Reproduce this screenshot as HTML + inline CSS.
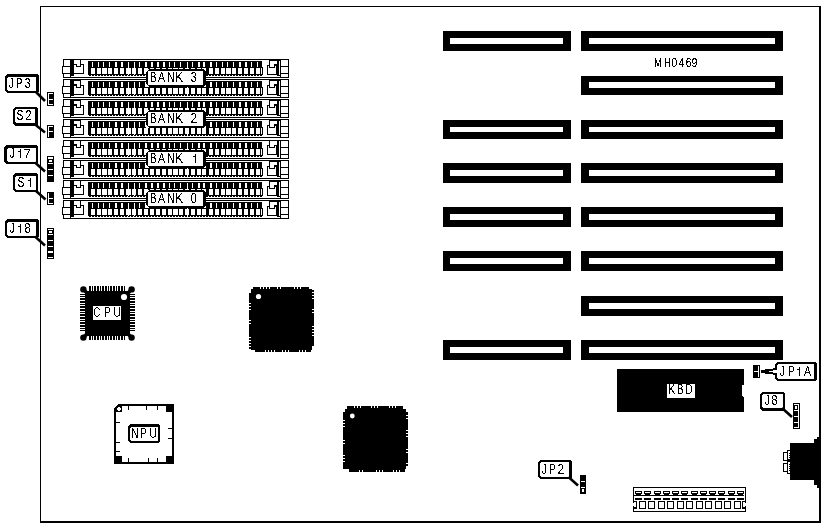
<!DOCTYPE html>
<html><head><meta charset="utf-8"><style>
html,body{margin:0;padding:0;background:#fff;width:825px;height:527px;overflow:hidden}
svg{display:block;filter:grayscale(1)}
text{font-family:"Liberation Sans",sans-serif}
</style></head><body>
<svg width="825" height="527" viewBox="0 0 825 527" shape-rendering="crispEdges">
<defs><filter id="th" color-interpolation-filters="sRGB"><feComponentTransfer><feFuncA type="discrete" tableValues="0 1"/></feComponentTransfer></filter></defs>
<rect x="0" y="0" width="825" height="527" fill="#fff"/>
<rect x="40" y="6" width="781" height="1" fill="#000"/>
<rect x="40" y="6" width="1" height="517" fill="#000"/>
<rect x="819" y="6" width="2" height="517" fill="#000"/>
<rect x="40" y="521" width="781" height="2" fill="#000"/>
<rect x="443" y="31" width="128" height="20" fill="#000"/>
<rect x="450" y="38" width="113" height="6" fill="#fff"/>
<rect x="581" y="31" width="202" height="20" fill="#000"/>
<rect x="589" y="38" width="186" height="6" fill="#fff"/>
<rect x="581" y="76" width="202" height="19" fill="#000"/>
<rect x="589" y="82" width="186" height="6" fill="#fff"/>
<rect x="443" y="120" width="128" height="19" fill="#000"/>
<rect x="450" y="127" width="113" height="5" fill="#fff"/>
<rect x="581" y="120" width="202" height="19" fill="#000"/>
<rect x="589" y="127" width="186" height="5" fill="#fff"/>
<rect x="443" y="163" width="128" height="20" fill="#000"/>
<rect x="450" y="170" width="113" height="6" fill="#fff"/>
<rect x="581" y="163" width="202" height="20" fill="#000"/>
<rect x="589" y="170" width="186" height="6" fill="#fff"/>
<rect x="443" y="207" width="128" height="20" fill="#000"/>
<rect x="450" y="214" width="113" height="6" fill="#fff"/>
<rect x="581" y="207" width="202" height="20" fill="#000"/>
<rect x="589" y="214" width="186" height="6" fill="#fff"/>
<rect x="443" y="251" width="128" height="20" fill="#000"/>
<rect x="450" y="258" width="113" height="6" fill="#fff"/>
<rect x="581" y="251" width="202" height="20" fill="#000"/>
<rect x="589" y="258" width="186" height="6" fill="#fff"/>
<rect x="581" y="296" width="202" height="20" fill="#000"/>
<rect x="589" y="303" width="186" height="6" fill="#fff"/>
<rect x="443" y="340" width="128" height="20" fill="#000"/>
<rect x="450" y="347" width="113" height="6" fill="#fff"/>
<rect x="581" y="340" width="202" height="20" fill="#000"/>
<rect x="589" y="347" width="186" height="6" fill="#fff"/>
<rect x="63" y="59" width="25" height="1" fill="#000"/>
<rect x="63" y="60" width="1" height="1" fill="#000"/>
<rect x="70" y="60" width="4" height="1" fill="#000"/>
<rect x="80" y="60" width="1" height="1" fill="#000"/>
<rect x="63" y="61" width="1" height="1" fill="#000"/>
<rect x="70" y="61" width="4" height="1" fill="#000"/>
<rect x="80" y="61" width="1" height="1" fill="#000"/>
<rect x="63" y="62" width="1" height="1" fill="#000"/>
<rect x="70" y="62" width="4" height="1" fill="#000"/>
<rect x="80" y="62" width="1" height="1" fill="#000"/>
<rect x="63" y="63" width="1" height="1" fill="#000"/>
<rect x="70" y="63" width="4" height="1" fill="#000"/>
<rect x="80" y="63" width="1" height="1" fill="#000"/>
<rect x="63" y="64" width="1" height="1" fill="#000"/>
<rect x="70" y="64" width="7" height="1" fill="#000"/>
<rect x="80" y="64" width="4" height="1" fill="#000"/>
<rect x="63" y="65" width="1" height="1" fill="#000"/>
<rect x="70" y="65" width="4" height="1" fill="#000"/>
<rect x="76" y="65" width="1" height="1" fill="#000"/>
<rect x="80" y="65" width="1" height="1" fill="#000"/>
<rect x="83" y="65" width="1" height="1" fill="#000"/>
<rect x="62" y="66" width="12" height="1" fill="#000"/>
<rect x="76" y="66" width="5" height="1" fill="#000"/>
<rect x="83" y="66" width="1" height="1" fill="#000"/>
<rect x="62" y="67" width="1" height="1" fill="#000"/>
<rect x="70" y="67" width="4" height="1" fill="#000"/>
<rect x="83" y="67" width="1" height="1" fill="#000"/>
<rect x="62" y="68" width="1" height="1" fill="#000"/>
<rect x="70" y="68" width="4" height="1" fill="#000"/>
<rect x="83" y="68" width="1" height="1" fill="#000"/>
<rect x="62" y="69" width="1" height="1" fill="#000"/>
<rect x="70" y="69" width="4" height="1" fill="#000"/>
<rect x="83" y="69" width="1" height="1" fill="#000"/>
<rect x="62" y="70" width="1" height="1" fill="#000"/>
<rect x="70" y="70" width="4" height="1" fill="#000"/>
<rect x="83" y="70" width="1" height="1" fill="#000"/>
<rect x="62" y="71" width="1" height="1" fill="#000"/>
<rect x="70" y="71" width="4" height="1" fill="#000"/>
<rect x="83" y="71" width="1" height="1" fill="#000"/>
<rect x="62" y="72" width="1" height="1" fill="#000"/>
<rect x="70" y="72" width="4" height="1" fill="#000"/>
<rect x="83" y="72" width="1" height="1" fill="#000"/>
<rect x="62" y="73" width="22" height="1" fill="#000"/>
<rect x="63" y="74" width="1" height="1" fill="#000"/>
<rect x="70" y="74" width="4" height="1" fill="#000"/>
<rect x="63" y="75" width="1" height="1" fill="#000"/>
<rect x="70" y="75" width="4" height="1" fill="#000"/>
<rect x="63" y="76" width="1" height="1" fill="#000"/>
<rect x="70" y="76" width="1" height="1" fill="#000"/>
<rect x="63" y="77" width="25" height="1" fill="#000"/>
<rect x="262" y="59" width="27" height="1" fill="#000"/>
<rect x="269" y="60" width="12" height="1" fill="#000"/>
<rect x="288" y="60" width="1" height="1" fill="#000"/>
<rect x="269" y="61" width="1" height="1" fill="#000"/>
<rect x="277" y="61" width="2" height="1" fill="#000"/>
<rect x="280" y="61" width="1" height="1" fill="#000"/>
<rect x="288" y="61" width="1" height="1" fill="#000"/>
<rect x="269" y="62" width="1" height="1" fill="#000"/>
<rect x="277" y="62" width="2" height="1" fill="#000"/>
<rect x="280" y="62" width="1" height="1" fill="#000"/>
<rect x="288" y="62" width="1" height="1" fill="#000"/>
<rect x="269" y="63" width="1" height="1" fill="#000"/>
<rect x="277" y="63" width="2" height="1" fill="#000"/>
<rect x="280" y="63" width="1" height="1" fill="#000"/>
<rect x="288" y="63" width="1" height="1" fill="#000"/>
<rect x="269" y="64" width="1" height="1" fill="#000"/>
<rect x="274" y="64" width="5" height="1" fill="#000"/>
<rect x="280" y="64" width="1" height="1" fill="#000"/>
<rect x="288" y="64" width="1" height="1" fill="#000"/>
<rect x="267" y="65" width="3" height="1" fill="#000"/>
<rect x="274" y="65" width="5" height="1" fill="#000"/>
<rect x="280" y="65" width="1" height="1" fill="#000"/>
<rect x="288" y="65" width="1" height="1" fill="#000"/>
<rect x="267" y="66" width="1" height="1" fill="#000"/>
<rect x="269" y="66" width="1" height="1" fill="#000"/>
<rect x="274" y="66" width="1" height="1" fill="#000"/>
<rect x="276" y="66" width="3" height="1" fill="#000"/>
<rect x="280" y="66" width="9" height="1" fill="#000"/>
<rect x="262" y="67" width="1" height="1" fill="#000"/>
<rect x="267" y="67" width="1" height="1" fill="#000"/>
<rect x="269" y="67" width="6" height="1" fill="#000"/>
<rect x="276" y="67" width="3" height="1" fill="#000"/>
<rect x="280" y="67" width="1" height="1" fill="#000"/>
<rect x="288" y="67" width="1" height="1" fill="#000"/>
<rect x="262" y="68" width="1" height="1" fill="#000"/>
<rect x="267" y="68" width="1" height="1" fill="#000"/>
<rect x="276" y="68" width="3" height="1" fill="#000"/>
<rect x="280" y="68" width="1" height="1" fill="#000"/>
<rect x="288" y="68" width="1" height="1" fill="#000"/>
<rect x="262" y="69" width="1" height="1" fill="#000"/>
<rect x="267" y="69" width="1" height="1" fill="#000"/>
<rect x="276" y="69" width="3" height="1" fill="#000"/>
<rect x="280" y="69" width="1" height="1" fill="#000"/>
<rect x="288" y="69" width="1" height="1" fill="#000"/>
<rect x="262" y="70" width="1" height="1" fill="#000"/>
<rect x="267" y="70" width="1" height="1" fill="#000"/>
<rect x="276" y="70" width="3" height="1" fill="#000"/>
<rect x="280" y="70" width="1" height="1" fill="#000"/>
<rect x="288" y="70" width="1" height="1" fill="#000"/>
<rect x="262" y="71" width="1" height="1" fill="#000"/>
<rect x="267" y="71" width="1" height="1" fill="#000"/>
<rect x="276" y="71" width="3" height="1" fill="#000"/>
<rect x="280" y="71" width="1" height="1" fill="#000"/>
<rect x="288" y="71" width="1" height="1" fill="#000"/>
<rect x="262" y="72" width="1" height="1" fill="#000"/>
<rect x="267" y="72" width="1" height="1" fill="#000"/>
<rect x="276" y="72" width="3" height="1" fill="#000"/>
<rect x="280" y="72" width="1" height="1" fill="#000"/>
<rect x="288" y="72" width="1" height="1" fill="#000"/>
<rect x="262" y="73" width="1" height="1" fill="#000"/>
<rect x="267" y="73" width="1" height="1" fill="#000"/>
<rect x="276" y="73" width="3" height="1" fill="#000"/>
<rect x="280" y="73" width="9" height="1" fill="#000"/>
<rect x="262" y="74" width="1" height="1" fill="#000"/>
<rect x="267" y="74" width="12" height="1" fill="#000"/>
<rect x="280" y="74" width="1" height="1" fill="#000"/>
<rect x="288" y="74" width="1" height="1" fill="#000"/>
<rect x="277" y="75" width="4" height="1" fill="#000"/>
<rect x="288" y="75" width="1" height="1" fill="#000"/>
<rect x="280" y="76" width="1" height="1" fill="#000"/>
<rect x="288" y="76" width="1" height="1" fill="#000"/>
<rect x="262" y="77" width="27" height="1" fill="#000"/>
<rect x="84" y="59" width="178" height="1" fill="#000"/>
<rect x="84" y="77" width="178" height="1" fill="#000"/>
<rect x="88" y="61" width="174" height="14" fill="#000"/>
<rect x="88" y="67" width="175" height="8" fill="#000"/>
<rect x="92" y="62" width="1" height="5" fill="#fff"/>
<rect x="91" y="68" width="4" height="6" fill="#fff"/>
<rect x="98" y="62" width="1" height="5" fill="#fff"/>
<rect x="97" y="68" width="4" height="6" fill="#fff"/>
<rect x="103" y="62" width="1" height="5" fill="#fff"/>
<rect x="102" y="68" width="5" height="6" fill="#fff"/>
<rect x="109" y="62" width="1" height="5" fill="#fff"/>
<rect x="108" y="68" width="4" height="6" fill="#fff"/>
<rect x="115" y="62" width="2" height="5" fill="#fff"/>
<rect x="114" y="68" width="4" height="6" fill="#fff"/>
<rect x="121" y="62" width="2" height="5" fill="#fff"/>
<rect x="120" y="68" width="4" height="6" fill="#fff"/>
<rect x="128" y="62" width="1" height="13" fill="#fff"/>
<rect x="126" y="68" width="5" height="6" fill="#fff"/>
<rect x="134" y="62" width="1" height="13" fill="#fff"/>
<rect x="132" y="68" width="4" height="6" fill="#fff"/>
<rect x="139" y="62" width="1" height="5" fill="#fff"/>
<rect x="138" y="68" width="4" height="6" fill="#fff"/>
<rect x="145" y="62" width="2" height="5" fill="#fff"/>
<rect x="144" y="68" width="4" height="6" fill="#fff"/>
<rect x="151" y="62" width="2" height="5" fill="#fff"/>
<rect x="150" y="68" width="4" height="6" fill="#fff"/>
<rect x="157" y="62" width="2" height="5" fill="#fff"/>
<rect x="156" y="68" width="4" height="6" fill="#fff"/>
<rect x="163" y="62" width="2" height="5" fill="#fff"/>
<rect x="162" y="68" width="4" height="6" fill="#fff"/>
<rect x="169" y="62" width="1" height="5" fill="#fff"/>
<rect x="168" y="68" width="4" height="6" fill="#fff"/>
<rect x="174" y="62" width="1" height="5" fill="#fff"/>
<rect x="173" y="68" width="5" height="6" fill="#fff"/>
<rect x="180" y="62" width="1" height="5" fill="#fff"/>
<rect x="179" y="68" width="4" height="6" fill="#fff"/>
<rect x="187" y="62" width="1" height="13" fill="#fff"/>
<rect x="185" y="68" width="4" height="6" fill="#fff"/>
<rect x="192" y="62" width="1" height="5" fill="#fff"/>
<rect x="191" y="68" width="4" height="6" fill="#fff"/>
<rect x="198" y="62" width="2" height="5" fill="#fff"/>
<rect x="197" y="68" width="4" height="6" fill="#fff"/>
<rect x="203" y="62" width="2" height="5" fill="#fff"/>
<rect x="202" y="68" width="4" height="6" fill="#fff"/>
<rect x="210" y="62" width="2" height="5" fill="#fff"/>
<rect x="209" y="68" width="4" height="6" fill="#fff"/>
<rect x="216" y="62" width="1" height="5" fill="#fff"/>
<rect x="215" y="68" width="4" height="6" fill="#fff"/>
<rect x="222" y="62" width="1" height="5" fill="#fff"/>
<rect x="221" y="68" width="4" height="6" fill="#fff"/>
<rect x="227" y="62" width="1" height="5" fill="#fff"/>
<rect x="226" y="68" width="5" height="6" fill="#fff"/>
<rect x="233" y="62" width="1" height="5" fill="#fff"/>
<rect x="232" y="68" width="4" height="6" fill="#fff"/>
<rect x="239" y="62" width="2" height="5" fill="#fff"/>
<rect x="238" y="68" width="4" height="6" fill="#fff"/>
<rect x="245" y="62" width="2" height="5" fill="#fff"/>
<rect x="244" y="68" width="4" height="6" fill="#fff"/>
<rect x="251" y="62" width="1" height="5" fill="#fff"/>
<rect x="250" y="68" width="4" height="6" fill="#fff"/>
<rect x="257" y="62" width="1" height="5" fill="#fff"/>
<rect x="256" y="68" width="4" height="6" fill="#fff"/>
<rect x="261" y="68" width="1" height="6" fill="#fff"/>
<rect x="89" y="75" width="2" height="1" fill="#000"/>
<rect x="92" y="75" width="2" height="1" fill="#000"/>
<rect x="95" y="75" width="2" height="1" fill="#000"/>
<rect x="98" y="75" width="2" height="1" fill="#000"/>
<rect x="101" y="75" width="2" height="1" fill="#000"/>
<rect x="104" y="75" width="2" height="1" fill="#000"/>
<rect x="107" y="75" width="2" height="1" fill="#000"/>
<rect x="110" y="75" width="2" height="1" fill="#000"/>
<rect x="113" y="75" width="2" height="1" fill="#000"/>
<rect x="116" y="75" width="2" height="1" fill="#000"/>
<rect x="119" y="75" width="2" height="1" fill="#000"/>
<rect x="122" y="75" width="2" height="1" fill="#000"/>
<rect x="125" y="75" width="2" height="1" fill="#000"/>
<rect x="128" y="75" width="2" height="1" fill="#000"/>
<rect x="131" y="75" width="2" height="1" fill="#000"/>
<rect x="134" y="75" width="2" height="1" fill="#000"/>
<rect x="137" y="75" width="2" height="1" fill="#000"/>
<rect x="140" y="75" width="2" height="1" fill="#000"/>
<rect x="143" y="75" width="2" height="1" fill="#000"/>
<rect x="146" y="75" width="2" height="1" fill="#000"/>
<rect x="149" y="75" width="2" height="1" fill="#000"/>
<rect x="152" y="75" width="2" height="1" fill="#000"/>
<rect x="155" y="75" width="2" height="1" fill="#000"/>
<rect x="158" y="75" width="2" height="1" fill="#000"/>
<rect x="161" y="75" width="2" height="1" fill="#000"/>
<rect x="164" y="75" width="2" height="1" fill="#000"/>
<rect x="167" y="75" width="2" height="1" fill="#000"/>
<rect x="170" y="75" width="2" height="1" fill="#000"/>
<rect x="173" y="75" width="2" height="1" fill="#000"/>
<rect x="176" y="75" width="2" height="1" fill="#000"/>
<rect x="179" y="75" width="2" height="1" fill="#000"/>
<rect x="182" y="75" width="2" height="1" fill="#000"/>
<rect x="185" y="75" width="2" height="1" fill="#000"/>
<rect x="188" y="75" width="2" height="1" fill="#000"/>
<rect x="191" y="75" width="2" height="1" fill="#000"/>
<rect x="194" y="75" width="2" height="1" fill="#000"/>
<rect x="197" y="75" width="2" height="1" fill="#000"/>
<rect x="200" y="75" width="2" height="1" fill="#000"/>
<rect x="203" y="75" width="2" height="1" fill="#000"/>
<rect x="206" y="75" width="2" height="1" fill="#000"/>
<rect x="209" y="75" width="2" height="1" fill="#000"/>
<rect x="212" y="75" width="2" height="1" fill="#000"/>
<rect x="215" y="75" width="2" height="1" fill="#000"/>
<rect x="218" y="75" width="2" height="1" fill="#000"/>
<rect x="221" y="75" width="2" height="1" fill="#000"/>
<rect x="224" y="75" width="2" height="1" fill="#000"/>
<rect x="227" y="75" width="2" height="1" fill="#000"/>
<rect x="230" y="75" width="2" height="1" fill="#000"/>
<rect x="233" y="75" width="2" height="1" fill="#000"/>
<rect x="236" y="75" width="2" height="1" fill="#000"/>
<rect x="239" y="75" width="2" height="1" fill="#000"/>
<rect x="242" y="75" width="2" height="1" fill="#000"/>
<rect x="245" y="75" width="2" height="1" fill="#000"/>
<rect x="248" y="75" width="2" height="1" fill="#000"/>
<rect x="251" y="75" width="2" height="1" fill="#000"/>
<rect x="254" y="75" width="2" height="1" fill="#000"/>
<rect x="257" y="75" width="2" height="1" fill="#000"/>
<rect x="260" y="75" width="2" height="1" fill="#000"/>
<rect x="63" y="79" width="25" height="1" fill="#000"/>
<rect x="63" y="80" width="1" height="1" fill="#000"/>
<rect x="70" y="80" width="11" height="1" fill="#000"/>
<rect x="63" y="81" width="1" height="1" fill="#000"/>
<rect x="70" y="81" width="4" height="1" fill="#000"/>
<rect x="80" y="81" width="1" height="1" fill="#000"/>
<rect x="63" y="82" width="1" height="1" fill="#000"/>
<rect x="70" y="82" width="4" height="1" fill="#000"/>
<rect x="80" y="82" width="1" height="1" fill="#000"/>
<rect x="63" y="83" width="1" height="1" fill="#000"/>
<rect x="70" y="83" width="4" height="1" fill="#000"/>
<rect x="80" y="83" width="1" height="1" fill="#000"/>
<rect x="63" y="84" width="1" height="1" fill="#000"/>
<rect x="70" y="84" width="7" height="1" fill="#000"/>
<rect x="80" y="84" width="1" height="1" fill="#000"/>
<rect x="63" y="85" width="1" height="1" fill="#000"/>
<rect x="70" y="85" width="7" height="1" fill="#000"/>
<rect x="80" y="85" width="4" height="1" fill="#000"/>
<rect x="62" y="86" width="12" height="1" fill="#000"/>
<rect x="76" y="86" width="1" height="1" fill="#000"/>
<rect x="80" y="86" width="1" height="1" fill="#000"/>
<rect x="83" y="86" width="1" height="1" fill="#000"/>
<rect x="62" y="87" width="1" height="1" fill="#000"/>
<rect x="70" y="87" width="4" height="1" fill="#000"/>
<rect x="76" y="87" width="5" height="1" fill="#000"/>
<rect x="83" y="87" width="1" height="1" fill="#000"/>
<rect x="62" y="88" width="1" height="1" fill="#000"/>
<rect x="70" y="88" width="4" height="1" fill="#000"/>
<rect x="83" y="88" width="1" height="1" fill="#000"/>
<rect x="62" y="89" width="1" height="1" fill="#000"/>
<rect x="70" y="89" width="4" height="1" fill="#000"/>
<rect x="83" y="89" width="1" height="1" fill="#000"/>
<rect x="62" y="90" width="1" height="1" fill="#000"/>
<rect x="70" y="90" width="4" height="1" fill="#000"/>
<rect x="83" y="90" width="1" height="1" fill="#000"/>
<rect x="62" y="91" width="1" height="1" fill="#000"/>
<rect x="70" y="91" width="4" height="1" fill="#000"/>
<rect x="83" y="91" width="1" height="1" fill="#000"/>
<rect x="62" y="92" width="1" height="1" fill="#000"/>
<rect x="70" y="92" width="4" height="1" fill="#000"/>
<rect x="83" y="92" width="1" height="1" fill="#000"/>
<rect x="62" y="93" width="12" height="1" fill="#000"/>
<rect x="83" y="93" width="1" height="1" fill="#000"/>
<rect x="63" y="94" width="1" height="1" fill="#000"/>
<rect x="70" y="94" width="14" height="1" fill="#000"/>
<rect x="63" y="95" width="1" height="1" fill="#000"/>
<rect x="70" y="95" width="4" height="1" fill="#000"/>
<rect x="63" y="96" width="1" height="1" fill="#000"/>
<rect x="70" y="96" width="1" height="1" fill="#000"/>
<rect x="63" y="97" width="25" height="1" fill="#000"/>
<rect x="262" y="79" width="27" height="1" fill="#000"/>
<rect x="269" y="80" width="12" height="1" fill="#000"/>
<rect x="288" y="80" width="1" height="1" fill="#000"/>
<rect x="269" y="81" width="1" height="1" fill="#000"/>
<rect x="277" y="81" width="2" height="1" fill="#000"/>
<rect x="280" y="81" width="1" height="1" fill="#000"/>
<rect x="288" y="81" width="1" height="1" fill="#000"/>
<rect x="269" y="82" width="1" height="1" fill="#000"/>
<rect x="277" y="82" width="2" height="1" fill="#000"/>
<rect x="280" y="82" width="1" height="1" fill="#000"/>
<rect x="288" y="82" width="1" height="1" fill="#000"/>
<rect x="269" y="83" width="1" height="1" fill="#000"/>
<rect x="277" y="83" width="2" height="1" fill="#000"/>
<rect x="280" y="83" width="1" height="1" fill="#000"/>
<rect x="288" y="83" width="1" height="1" fill="#000"/>
<rect x="269" y="84" width="1" height="1" fill="#000"/>
<rect x="274" y="84" width="5" height="1" fill="#000"/>
<rect x="280" y="84" width="1" height="1" fill="#000"/>
<rect x="288" y="84" width="1" height="1" fill="#000"/>
<rect x="267" y="85" width="3" height="1" fill="#000"/>
<rect x="274" y="85" width="5" height="1" fill="#000"/>
<rect x="280" y="85" width="1" height="1" fill="#000"/>
<rect x="288" y="85" width="1" height="1" fill="#000"/>
<rect x="267" y="86" width="1" height="1" fill="#000"/>
<rect x="269" y="86" width="1" height="1" fill="#000"/>
<rect x="274" y="86" width="1" height="1" fill="#000"/>
<rect x="276" y="86" width="3" height="1" fill="#000"/>
<rect x="280" y="86" width="9" height="1" fill="#000"/>
<rect x="262" y="87" width="1" height="1" fill="#000"/>
<rect x="267" y="87" width="1" height="1" fill="#000"/>
<rect x="269" y="87" width="6" height="1" fill="#000"/>
<rect x="276" y="87" width="3" height="1" fill="#000"/>
<rect x="280" y="87" width="1" height="1" fill="#000"/>
<rect x="288" y="87" width="1" height="1" fill="#000"/>
<rect x="262" y="88" width="1" height="1" fill="#000"/>
<rect x="267" y="88" width="1" height="1" fill="#000"/>
<rect x="276" y="88" width="3" height="1" fill="#000"/>
<rect x="280" y="88" width="1" height="1" fill="#000"/>
<rect x="288" y="88" width="1" height="1" fill="#000"/>
<rect x="262" y="89" width="1" height="1" fill="#000"/>
<rect x="267" y="89" width="1" height="1" fill="#000"/>
<rect x="276" y="89" width="3" height="1" fill="#000"/>
<rect x="280" y="89" width="1" height="1" fill="#000"/>
<rect x="288" y="89" width="1" height="1" fill="#000"/>
<rect x="262" y="90" width="1" height="1" fill="#000"/>
<rect x="267" y="90" width="1" height="1" fill="#000"/>
<rect x="276" y="90" width="3" height="1" fill="#000"/>
<rect x="280" y="90" width="1" height="1" fill="#000"/>
<rect x="288" y="90" width="1" height="1" fill="#000"/>
<rect x="262" y="91" width="1" height="1" fill="#000"/>
<rect x="267" y="91" width="1" height="1" fill="#000"/>
<rect x="276" y="91" width="3" height="1" fill="#000"/>
<rect x="280" y="91" width="1" height="1" fill="#000"/>
<rect x="288" y="91" width="1" height="1" fill="#000"/>
<rect x="262" y="92" width="1" height="1" fill="#000"/>
<rect x="267" y="92" width="1" height="1" fill="#000"/>
<rect x="276" y="92" width="3" height="1" fill="#000"/>
<rect x="280" y="92" width="1" height="1" fill="#000"/>
<rect x="288" y="92" width="1" height="1" fill="#000"/>
<rect x="262" y="93" width="1" height="1" fill="#000"/>
<rect x="267" y="93" width="1" height="1" fill="#000"/>
<rect x="276" y="93" width="3" height="1" fill="#000"/>
<rect x="280" y="93" width="9" height="1" fill="#000"/>
<rect x="262" y="94" width="1" height="1" fill="#000"/>
<rect x="267" y="94" width="12" height="1" fill="#000"/>
<rect x="280" y="94" width="1" height="1" fill="#000"/>
<rect x="288" y="94" width="1" height="1" fill="#000"/>
<rect x="277" y="95" width="4" height="1" fill="#000"/>
<rect x="288" y="95" width="1" height="1" fill="#000"/>
<rect x="280" y="96" width="1" height="1" fill="#000"/>
<rect x="288" y="96" width="1" height="1" fill="#000"/>
<rect x="262" y="97" width="27" height="1" fill="#000"/>
<rect x="84" y="79" width="178" height="1" fill="#000"/>
<rect x="84" y="97" width="178" height="1" fill="#000"/>
<rect x="88" y="81" width="174" height="14" fill="#000"/>
<rect x="88" y="87" width="175" height="8" fill="#000"/>
<rect x="92" y="82" width="1" height="5" fill="#fff"/>
<rect x="91" y="88" width="4" height="6" fill="#fff"/>
<rect x="98" y="82" width="1" height="5" fill="#fff"/>
<rect x="97" y="88" width="4" height="6" fill="#fff"/>
<rect x="103" y="82" width="1" height="5" fill="#fff"/>
<rect x="102" y="88" width="5" height="6" fill="#fff"/>
<rect x="109" y="82" width="1" height="5" fill="#fff"/>
<rect x="108" y="88" width="4" height="6" fill="#fff"/>
<rect x="115" y="82" width="2" height="5" fill="#fff"/>
<rect x="114" y="88" width="4" height="6" fill="#fff"/>
<rect x="121" y="82" width="2" height="5" fill="#fff"/>
<rect x="120" y="88" width="4" height="6" fill="#fff"/>
<rect x="128" y="82" width="1" height="13" fill="#fff"/>
<rect x="126" y="88" width="5" height="6" fill="#fff"/>
<rect x="134" y="82" width="1" height="13" fill="#fff"/>
<rect x="132" y="88" width="4" height="6" fill="#fff"/>
<rect x="139" y="82" width="1" height="5" fill="#fff"/>
<rect x="138" y="88" width="4" height="6" fill="#fff"/>
<rect x="145" y="82" width="2" height="5" fill="#fff"/>
<rect x="144" y="88" width="4" height="6" fill="#fff"/>
<rect x="151" y="82" width="2" height="5" fill="#fff"/>
<rect x="150" y="88" width="4" height="6" fill="#fff"/>
<rect x="157" y="82" width="2" height="5" fill="#fff"/>
<rect x="156" y="88" width="4" height="6" fill="#fff"/>
<rect x="163" y="82" width="2" height="5" fill="#fff"/>
<rect x="162" y="88" width="4" height="6" fill="#fff"/>
<rect x="169" y="82" width="1" height="5" fill="#fff"/>
<rect x="168" y="88" width="4" height="6" fill="#fff"/>
<rect x="174" y="82" width="1" height="5" fill="#fff"/>
<rect x="173" y="88" width="5" height="6" fill="#fff"/>
<rect x="180" y="82" width="1" height="5" fill="#fff"/>
<rect x="179" y="88" width="4" height="6" fill="#fff"/>
<rect x="187" y="82" width="1" height="13" fill="#fff"/>
<rect x="185" y="88" width="4" height="6" fill="#fff"/>
<rect x="192" y="82" width="1" height="5" fill="#fff"/>
<rect x="191" y="88" width="4" height="6" fill="#fff"/>
<rect x="198" y="82" width="2" height="5" fill="#fff"/>
<rect x="197" y="88" width="4" height="6" fill="#fff"/>
<rect x="203" y="82" width="2" height="5" fill="#fff"/>
<rect x="202" y="88" width="4" height="6" fill="#fff"/>
<rect x="210" y="82" width="2" height="5" fill="#fff"/>
<rect x="209" y="88" width="4" height="6" fill="#fff"/>
<rect x="216" y="82" width="1" height="5" fill="#fff"/>
<rect x="215" y="88" width="4" height="6" fill="#fff"/>
<rect x="222" y="82" width="1" height="5" fill="#fff"/>
<rect x="221" y="88" width="4" height="6" fill="#fff"/>
<rect x="227" y="82" width="1" height="5" fill="#fff"/>
<rect x="226" y="88" width="5" height="6" fill="#fff"/>
<rect x="233" y="82" width="1" height="5" fill="#fff"/>
<rect x="232" y="88" width="4" height="6" fill="#fff"/>
<rect x="239" y="82" width="2" height="5" fill="#fff"/>
<rect x="238" y="88" width="4" height="6" fill="#fff"/>
<rect x="245" y="82" width="2" height="5" fill="#fff"/>
<rect x="244" y="88" width="4" height="6" fill="#fff"/>
<rect x="251" y="82" width="1" height="5" fill="#fff"/>
<rect x="250" y="88" width="4" height="6" fill="#fff"/>
<rect x="257" y="82" width="1" height="5" fill="#fff"/>
<rect x="256" y="88" width="4" height="6" fill="#fff"/>
<rect x="261" y="88" width="1" height="6" fill="#fff"/>
<rect x="89" y="95" width="2" height="1" fill="#000"/>
<rect x="92" y="95" width="2" height="1" fill="#000"/>
<rect x="95" y="95" width="2" height="1" fill="#000"/>
<rect x="98" y="95" width="2" height="1" fill="#000"/>
<rect x="101" y="95" width="2" height="1" fill="#000"/>
<rect x="104" y="95" width="2" height="1" fill="#000"/>
<rect x="107" y="95" width="2" height="1" fill="#000"/>
<rect x="110" y="95" width="2" height="1" fill="#000"/>
<rect x="113" y="95" width="2" height="1" fill="#000"/>
<rect x="116" y="95" width="2" height="1" fill="#000"/>
<rect x="119" y="95" width="2" height="1" fill="#000"/>
<rect x="122" y="95" width="2" height="1" fill="#000"/>
<rect x="125" y="95" width="2" height="1" fill="#000"/>
<rect x="128" y="95" width="2" height="1" fill="#000"/>
<rect x="131" y="95" width="2" height="1" fill="#000"/>
<rect x="134" y="95" width="2" height="1" fill="#000"/>
<rect x="137" y="95" width="2" height="1" fill="#000"/>
<rect x="140" y="95" width="2" height="1" fill="#000"/>
<rect x="143" y="95" width="2" height="1" fill="#000"/>
<rect x="146" y="95" width="2" height="1" fill="#000"/>
<rect x="149" y="95" width="2" height="1" fill="#000"/>
<rect x="152" y="95" width="2" height="1" fill="#000"/>
<rect x="155" y="95" width="2" height="1" fill="#000"/>
<rect x="158" y="95" width="2" height="1" fill="#000"/>
<rect x="161" y="95" width="2" height="1" fill="#000"/>
<rect x="164" y="95" width="2" height="1" fill="#000"/>
<rect x="167" y="95" width="2" height="1" fill="#000"/>
<rect x="170" y="95" width="2" height="1" fill="#000"/>
<rect x="173" y="95" width="2" height="1" fill="#000"/>
<rect x="176" y="95" width="2" height="1" fill="#000"/>
<rect x="179" y="95" width="2" height="1" fill="#000"/>
<rect x="182" y="95" width="2" height="1" fill="#000"/>
<rect x="185" y="95" width="2" height="1" fill="#000"/>
<rect x="188" y="95" width="2" height="1" fill="#000"/>
<rect x="191" y="95" width="2" height="1" fill="#000"/>
<rect x="194" y="95" width="2" height="1" fill="#000"/>
<rect x="197" y="95" width="2" height="1" fill="#000"/>
<rect x="200" y="95" width="2" height="1" fill="#000"/>
<rect x="203" y="95" width="2" height="1" fill="#000"/>
<rect x="206" y="95" width="2" height="1" fill="#000"/>
<rect x="209" y="95" width="2" height="1" fill="#000"/>
<rect x="212" y="95" width="2" height="1" fill="#000"/>
<rect x="215" y="95" width="2" height="1" fill="#000"/>
<rect x="218" y="95" width="2" height="1" fill="#000"/>
<rect x="221" y="95" width="2" height="1" fill="#000"/>
<rect x="224" y="95" width="2" height="1" fill="#000"/>
<rect x="227" y="95" width="2" height="1" fill="#000"/>
<rect x="230" y="95" width="2" height="1" fill="#000"/>
<rect x="233" y="95" width="2" height="1" fill="#000"/>
<rect x="236" y="95" width="2" height="1" fill="#000"/>
<rect x="239" y="95" width="2" height="1" fill="#000"/>
<rect x="242" y="95" width="2" height="1" fill="#000"/>
<rect x="245" y="95" width="2" height="1" fill="#000"/>
<rect x="248" y="95" width="2" height="1" fill="#000"/>
<rect x="251" y="95" width="2" height="1" fill="#000"/>
<rect x="254" y="95" width="2" height="1" fill="#000"/>
<rect x="257" y="95" width="2" height="1" fill="#000"/>
<rect x="260" y="95" width="2" height="1" fill="#000"/>
<rect x="63" y="99" width="25" height="1" fill="#000"/>
<rect x="63" y="100" width="1" height="1" fill="#000"/>
<rect x="70" y="100" width="11" height="1" fill="#000"/>
<rect x="63" y="101" width="1" height="1" fill="#000"/>
<rect x="70" y="101" width="4" height="1" fill="#000"/>
<rect x="80" y="101" width="1" height="1" fill="#000"/>
<rect x="63" y="102" width="1" height="1" fill="#000"/>
<rect x="70" y="102" width="4" height="1" fill="#000"/>
<rect x="80" y="102" width="1" height="1" fill="#000"/>
<rect x="63" y="103" width="1" height="1" fill="#000"/>
<rect x="70" y="103" width="4" height="1" fill="#000"/>
<rect x="80" y="103" width="1" height="1" fill="#000"/>
<rect x="63" y="104" width="1" height="1" fill="#000"/>
<rect x="70" y="104" width="7" height="1" fill="#000"/>
<rect x="80" y="104" width="1" height="1" fill="#000"/>
<rect x="63" y="105" width="1" height="1" fill="#000"/>
<rect x="70" y="105" width="7" height="1" fill="#000"/>
<rect x="80" y="105" width="4" height="1" fill="#000"/>
<rect x="62" y="106" width="12" height="1" fill="#000"/>
<rect x="76" y="106" width="1" height="1" fill="#000"/>
<rect x="80" y="106" width="1" height="1" fill="#000"/>
<rect x="83" y="106" width="1" height="1" fill="#000"/>
<rect x="62" y="107" width="1" height="1" fill="#000"/>
<rect x="70" y="107" width="4" height="1" fill="#000"/>
<rect x="76" y="107" width="5" height="1" fill="#000"/>
<rect x="83" y="107" width="1" height="1" fill="#000"/>
<rect x="62" y="108" width="1" height="1" fill="#000"/>
<rect x="70" y="108" width="4" height="1" fill="#000"/>
<rect x="83" y="108" width="1" height="1" fill="#000"/>
<rect x="62" y="109" width="1" height="1" fill="#000"/>
<rect x="70" y="109" width="4" height="1" fill="#000"/>
<rect x="83" y="109" width="1" height="1" fill="#000"/>
<rect x="62" y="110" width="1" height="1" fill="#000"/>
<rect x="70" y="110" width="4" height="1" fill="#000"/>
<rect x="83" y="110" width="1" height="1" fill="#000"/>
<rect x="62" y="111" width="1" height="1" fill="#000"/>
<rect x="70" y="111" width="4" height="1" fill="#000"/>
<rect x="83" y="111" width="1" height="1" fill="#000"/>
<rect x="62" y="112" width="1" height="1" fill="#000"/>
<rect x="70" y="112" width="4" height="1" fill="#000"/>
<rect x="83" y="112" width="1" height="1" fill="#000"/>
<rect x="62" y="113" width="12" height="1" fill="#000"/>
<rect x="83" y="113" width="1" height="1" fill="#000"/>
<rect x="63" y="114" width="1" height="1" fill="#000"/>
<rect x="70" y="114" width="14" height="1" fill="#000"/>
<rect x="63" y="115" width="1" height="1" fill="#000"/>
<rect x="70" y="115" width="4" height="1" fill="#000"/>
<rect x="63" y="116" width="1" height="1" fill="#000"/>
<rect x="70" y="116" width="1" height="1" fill="#000"/>
<rect x="63" y="117" width="25" height="1" fill="#000"/>
<rect x="262" y="99" width="27" height="1" fill="#000"/>
<rect x="269" y="100" width="12" height="1" fill="#000"/>
<rect x="288" y="100" width="1" height="1" fill="#000"/>
<rect x="269" y="101" width="1" height="1" fill="#000"/>
<rect x="277" y="101" width="2" height="1" fill="#000"/>
<rect x="280" y="101" width="1" height="1" fill="#000"/>
<rect x="288" y="101" width="1" height="1" fill="#000"/>
<rect x="269" y="102" width="1" height="1" fill="#000"/>
<rect x="277" y="102" width="2" height="1" fill="#000"/>
<rect x="280" y="102" width="1" height="1" fill="#000"/>
<rect x="288" y="102" width="1" height="1" fill="#000"/>
<rect x="269" y="103" width="1" height="1" fill="#000"/>
<rect x="277" y="103" width="2" height="1" fill="#000"/>
<rect x="280" y="103" width="1" height="1" fill="#000"/>
<rect x="288" y="103" width="1" height="1" fill="#000"/>
<rect x="269" y="104" width="1" height="1" fill="#000"/>
<rect x="274" y="104" width="5" height="1" fill="#000"/>
<rect x="280" y="104" width="1" height="1" fill="#000"/>
<rect x="288" y="104" width="1" height="1" fill="#000"/>
<rect x="267" y="105" width="3" height="1" fill="#000"/>
<rect x="274" y="105" width="5" height="1" fill="#000"/>
<rect x="280" y="105" width="1" height="1" fill="#000"/>
<rect x="288" y="105" width="1" height="1" fill="#000"/>
<rect x="267" y="106" width="1" height="1" fill="#000"/>
<rect x="269" y="106" width="1" height="1" fill="#000"/>
<rect x="274" y="106" width="1" height="1" fill="#000"/>
<rect x="276" y="106" width="3" height="1" fill="#000"/>
<rect x="280" y="106" width="9" height="1" fill="#000"/>
<rect x="262" y="107" width="1" height="1" fill="#000"/>
<rect x="267" y="107" width="1" height="1" fill="#000"/>
<rect x="269" y="107" width="6" height="1" fill="#000"/>
<rect x="276" y="107" width="3" height="1" fill="#000"/>
<rect x="280" y="107" width="1" height="1" fill="#000"/>
<rect x="288" y="107" width="1" height="1" fill="#000"/>
<rect x="262" y="108" width="1" height="1" fill="#000"/>
<rect x="267" y="108" width="1" height="1" fill="#000"/>
<rect x="276" y="108" width="3" height="1" fill="#000"/>
<rect x="280" y="108" width="1" height="1" fill="#000"/>
<rect x="288" y="108" width="1" height="1" fill="#000"/>
<rect x="262" y="109" width="1" height="1" fill="#000"/>
<rect x="267" y="109" width="1" height="1" fill="#000"/>
<rect x="276" y="109" width="3" height="1" fill="#000"/>
<rect x="280" y="109" width="1" height="1" fill="#000"/>
<rect x="288" y="109" width="1" height="1" fill="#000"/>
<rect x="262" y="110" width="1" height="1" fill="#000"/>
<rect x="267" y="110" width="1" height="1" fill="#000"/>
<rect x="276" y="110" width="3" height="1" fill="#000"/>
<rect x="280" y="110" width="1" height="1" fill="#000"/>
<rect x="288" y="110" width="1" height="1" fill="#000"/>
<rect x="262" y="111" width="1" height="1" fill="#000"/>
<rect x="267" y="111" width="1" height="1" fill="#000"/>
<rect x="276" y="111" width="3" height="1" fill="#000"/>
<rect x="280" y="111" width="1" height="1" fill="#000"/>
<rect x="288" y="111" width="1" height="1" fill="#000"/>
<rect x="262" y="112" width="1" height="1" fill="#000"/>
<rect x="267" y="112" width="1" height="1" fill="#000"/>
<rect x="276" y="112" width="3" height="1" fill="#000"/>
<rect x="280" y="112" width="1" height="1" fill="#000"/>
<rect x="288" y="112" width="1" height="1" fill="#000"/>
<rect x="262" y="113" width="1" height="1" fill="#000"/>
<rect x="267" y="113" width="1" height="1" fill="#000"/>
<rect x="276" y="113" width="3" height="1" fill="#000"/>
<rect x="280" y="113" width="9" height="1" fill="#000"/>
<rect x="262" y="114" width="1" height="1" fill="#000"/>
<rect x="267" y="114" width="12" height="1" fill="#000"/>
<rect x="280" y="114" width="1" height="1" fill="#000"/>
<rect x="288" y="114" width="1" height="1" fill="#000"/>
<rect x="277" y="115" width="4" height="1" fill="#000"/>
<rect x="288" y="115" width="1" height="1" fill="#000"/>
<rect x="280" y="116" width="1" height="1" fill="#000"/>
<rect x="288" y="116" width="1" height="1" fill="#000"/>
<rect x="262" y="117" width="27" height="1" fill="#000"/>
<rect x="84" y="99" width="178" height="1" fill="#000"/>
<rect x="84" y="117" width="178" height="1" fill="#000"/>
<rect x="88" y="101" width="174" height="14" fill="#000"/>
<rect x="88" y="107" width="175" height="8" fill="#000"/>
<rect x="92" y="102" width="1" height="5" fill="#fff"/>
<rect x="91" y="108" width="4" height="6" fill="#fff"/>
<rect x="98" y="102" width="1" height="5" fill="#fff"/>
<rect x="97" y="108" width="4" height="6" fill="#fff"/>
<rect x="103" y="102" width="1" height="5" fill="#fff"/>
<rect x="102" y="108" width="5" height="6" fill="#fff"/>
<rect x="109" y="102" width="1" height="5" fill="#fff"/>
<rect x="108" y="108" width="4" height="6" fill="#fff"/>
<rect x="115" y="102" width="2" height="5" fill="#fff"/>
<rect x="114" y="108" width="4" height="6" fill="#fff"/>
<rect x="121" y="102" width="2" height="5" fill="#fff"/>
<rect x="120" y="108" width="4" height="6" fill="#fff"/>
<rect x="128" y="102" width="1" height="13" fill="#fff"/>
<rect x="126" y="108" width="5" height="6" fill="#fff"/>
<rect x="134" y="102" width="1" height="13" fill="#fff"/>
<rect x="132" y="108" width="4" height="6" fill="#fff"/>
<rect x="139" y="102" width="1" height="5" fill="#fff"/>
<rect x="138" y="108" width="4" height="6" fill="#fff"/>
<rect x="145" y="102" width="2" height="5" fill="#fff"/>
<rect x="144" y="108" width="4" height="6" fill="#fff"/>
<rect x="151" y="102" width="2" height="5" fill="#fff"/>
<rect x="150" y="108" width="4" height="6" fill="#fff"/>
<rect x="157" y="102" width="2" height="5" fill="#fff"/>
<rect x="156" y="108" width="4" height="6" fill="#fff"/>
<rect x="163" y="102" width="2" height="5" fill="#fff"/>
<rect x="162" y="108" width="4" height="6" fill="#fff"/>
<rect x="169" y="102" width="1" height="5" fill="#fff"/>
<rect x="168" y="108" width="4" height="6" fill="#fff"/>
<rect x="174" y="102" width="1" height="5" fill="#fff"/>
<rect x="173" y="108" width="5" height="6" fill="#fff"/>
<rect x="180" y="102" width="1" height="5" fill="#fff"/>
<rect x="179" y="108" width="4" height="6" fill="#fff"/>
<rect x="187" y="102" width="1" height="13" fill="#fff"/>
<rect x="185" y="108" width="4" height="6" fill="#fff"/>
<rect x="192" y="102" width="1" height="5" fill="#fff"/>
<rect x="191" y="108" width="4" height="6" fill="#fff"/>
<rect x="198" y="102" width="2" height="5" fill="#fff"/>
<rect x="197" y="108" width="4" height="6" fill="#fff"/>
<rect x="203" y="102" width="2" height="5" fill="#fff"/>
<rect x="202" y="108" width="4" height="6" fill="#fff"/>
<rect x="210" y="102" width="2" height="5" fill="#fff"/>
<rect x="209" y="108" width="4" height="6" fill="#fff"/>
<rect x="216" y="102" width="1" height="5" fill="#fff"/>
<rect x="215" y="108" width="4" height="6" fill="#fff"/>
<rect x="222" y="102" width="1" height="5" fill="#fff"/>
<rect x="221" y="108" width="4" height="6" fill="#fff"/>
<rect x="227" y="102" width="1" height="5" fill="#fff"/>
<rect x="226" y="108" width="5" height="6" fill="#fff"/>
<rect x="233" y="102" width="1" height="5" fill="#fff"/>
<rect x="232" y="108" width="4" height="6" fill="#fff"/>
<rect x="239" y="102" width="2" height="5" fill="#fff"/>
<rect x="238" y="108" width="4" height="6" fill="#fff"/>
<rect x="245" y="102" width="2" height="5" fill="#fff"/>
<rect x="244" y="108" width="4" height="6" fill="#fff"/>
<rect x="251" y="102" width="1" height="5" fill="#fff"/>
<rect x="250" y="108" width="4" height="6" fill="#fff"/>
<rect x="257" y="102" width="1" height="5" fill="#fff"/>
<rect x="256" y="108" width="4" height="6" fill="#fff"/>
<rect x="261" y="108" width="1" height="6" fill="#fff"/>
<rect x="89" y="115" width="2" height="1" fill="#000"/>
<rect x="92" y="115" width="2" height="1" fill="#000"/>
<rect x="95" y="115" width="2" height="1" fill="#000"/>
<rect x="98" y="115" width="2" height="1" fill="#000"/>
<rect x="101" y="115" width="2" height="1" fill="#000"/>
<rect x="104" y="115" width="2" height="1" fill="#000"/>
<rect x="107" y="115" width="2" height="1" fill="#000"/>
<rect x="110" y="115" width="2" height="1" fill="#000"/>
<rect x="113" y="115" width="2" height="1" fill="#000"/>
<rect x="116" y="115" width="2" height="1" fill="#000"/>
<rect x="119" y="115" width="2" height="1" fill="#000"/>
<rect x="122" y="115" width="2" height="1" fill="#000"/>
<rect x="125" y="115" width="2" height="1" fill="#000"/>
<rect x="128" y="115" width="2" height="1" fill="#000"/>
<rect x="131" y="115" width="2" height="1" fill="#000"/>
<rect x="134" y="115" width="2" height="1" fill="#000"/>
<rect x="137" y="115" width="2" height="1" fill="#000"/>
<rect x="140" y="115" width="2" height="1" fill="#000"/>
<rect x="143" y="115" width="2" height="1" fill="#000"/>
<rect x="146" y="115" width="2" height="1" fill="#000"/>
<rect x="149" y="115" width="2" height="1" fill="#000"/>
<rect x="152" y="115" width="2" height="1" fill="#000"/>
<rect x="155" y="115" width="2" height="1" fill="#000"/>
<rect x="158" y="115" width="2" height="1" fill="#000"/>
<rect x="161" y="115" width="2" height="1" fill="#000"/>
<rect x="164" y="115" width="2" height="1" fill="#000"/>
<rect x="167" y="115" width="2" height="1" fill="#000"/>
<rect x="170" y="115" width="2" height="1" fill="#000"/>
<rect x="173" y="115" width="2" height="1" fill="#000"/>
<rect x="176" y="115" width="2" height="1" fill="#000"/>
<rect x="179" y="115" width="2" height="1" fill="#000"/>
<rect x="182" y="115" width="2" height="1" fill="#000"/>
<rect x="185" y="115" width="2" height="1" fill="#000"/>
<rect x="188" y="115" width="2" height="1" fill="#000"/>
<rect x="191" y="115" width="2" height="1" fill="#000"/>
<rect x="194" y="115" width="2" height="1" fill="#000"/>
<rect x="197" y="115" width="2" height="1" fill="#000"/>
<rect x="200" y="115" width="2" height="1" fill="#000"/>
<rect x="203" y="115" width="2" height="1" fill="#000"/>
<rect x="206" y="115" width="2" height="1" fill="#000"/>
<rect x="209" y="115" width="2" height="1" fill="#000"/>
<rect x="212" y="115" width="2" height="1" fill="#000"/>
<rect x="215" y="115" width="2" height="1" fill="#000"/>
<rect x="218" y="115" width="2" height="1" fill="#000"/>
<rect x="221" y="115" width="2" height="1" fill="#000"/>
<rect x="224" y="115" width="2" height="1" fill="#000"/>
<rect x="227" y="115" width="2" height="1" fill="#000"/>
<rect x="230" y="115" width="2" height="1" fill="#000"/>
<rect x="233" y="115" width="2" height="1" fill="#000"/>
<rect x="236" y="115" width="2" height="1" fill="#000"/>
<rect x="239" y="115" width="2" height="1" fill="#000"/>
<rect x="242" y="115" width="2" height="1" fill="#000"/>
<rect x="245" y="115" width="2" height="1" fill="#000"/>
<rect x="248" y="115" width="2" height="1" fill="#000"/>
<rect x="251" y="115" width="2" height="1" fill="#000"/>
<rect x="254" y="115" width="2" height="1" fill="#000"/>
<rect x="257" y="115" width="2" height="1" fill="#000"/>
<rect x="260" y="115" width="2" height="1" fill="#000"/>
<rect x="63" y="119" width="25" height="1" fill="#000"/>
<rect x="63" y="120" width="1" height="1" fill="#000"/>
<rect x="70" y="120" width="11" height="1" fill="#000"/>
<rect x="63" y="121" width="1" height="1" fill="#000"/>
<rect x="70" y="121" width="4" height="1" fill="#000"/>
<rect x="80" y="121" width="1" height="1" fill="#000"/>
<rect x="63" y="122" width="1" height="1" fill="#000"/>
<rect x="70" y="122" width="4" height="1" fill="#000"/>
<rect x="80" y="122" width="1" height="1" fill="#000"/>
<rect x="63" y="123" width="1" height="1" fill="#000"/>
<rect x="70" y="123" width="4" height="1" fill="#000"/>
<rect x="80" y="123" width="1" height="1" fill="#000"/>
<rect x="63" y="124" width="1" height="1" fill="#000"/>
<rect x="70" y="124" width="7" height="1" fill="#000"/>
<rect x="80" y="124" width="1" height="1" fill="#000"/>
<rect x="63" y="125" width="1" height="1" fill="#000"/>
<rect x="70" y="125" width="7" height="1" fill="#000"/>
<rect x="80" y="125" width="4" height="1" fill="#000"/>
<rect x="62" y="126" width="12" height="1" fill="#000"/>
<rect x="76" y="126" width="1" height="1" fill="#000"/>
<rect x="80" y="126" width="1" height="1" fill="#000"/>
<rect x="83" y="126" width="1" height="1" fill="#000"/>
<rect x="62" y="127" width="1" height="1" fill="#000"/>
<rect x="70" y="127" width="4" height="1" fill="#000"/>
<rect x="76" y="127" width="5" height="1" fill="#000"/>
<rect x="83" y="127" width="1" height="1" fill="#000"/>
<rect x="62" y="128" width="1" height="1" fill="#000"/>
<rect x="70" y="128" width="4" height="1" fill="#000"/>
<rect x="83" y="128" width="1" height="1" fill="#000"/>
<rect x="62" y="129" width="1" height="1" fill="#000"/>
<rect x="70" y="129" width="4" height="1" fill="#000"/>
<rect x="83" y="129" width="1" height="1" fill="#000"/>
<rect x="62" y="130" width="1" height="1" fill="#000"/>
<rect x="70" y="130" width="4" height="1" fill="#000"/>
<rect x="83" y="130" width="1" height="1" fill="#000"/>
<rect x="62" y="131" width="1" height="1" fill="#000"/>
<rect x="70" y="131" width="4" height="1" fill="#000"/>
<rect x="83" y="131" width="1" height="1" fill="#000"/>
<rect x="62" y="132" width="1" height="1" fill="#000"/>
<rect x="70" y="132" width="4" height="1" fill="#000"/>
<rect x="83" y="132" width="1" height="1" fill="#000"/>
<rect x="62" y="133" width="12" height="1" fill="#000"/>
<rect x="83" y="133" width="1" height="1" fill="#000"/>
<rect x="63" y="134" width="1" height="1" fill="#000"/>
<rect x="70" y="134" width="14" height="1" fill="#000"/>
<rect x="63" y="135" width="1" height="1" fill="#000"/>
<rect x="70" y="135" width="4" height="1" fill="#000"/>
<rect x="63" y="136" width="1" height="1" fill="#000"/>
<rect x="70" y="136" width="1" height="1" fill="#000"/>
<rect x="63" y="137" width="25" height="1" fill="#000"/>
<rect x="262" y="119" width="27" height="1" fill="#000"/>
<rect x="269" y="120" width="12" height="1" fill="#000"/>
<rect x="288" y="120" width="1" height="1" fill="#000"/>
<rect x="269" y="121" width="1" height="1" fill="#000"/>
<rect x="277" y="121" width="2" height="1" fill="#000"/>
<rect x="280" y="121" width="1" height="1" fill="#000"/>
<rect x="288" y="121" width="1" height="1" fill="#000"/>
<rect x="269" y="122" width="1" height="1" fill="#000"/>
<rect x="277" y="122" width="2" height="1" fill="#000"/>
<rect x="280" y="122" width="1" height="1" fill="#000"/>
<rect x="288" y="122" width="1" height="1" fill="#000"/>
<rect x="269" y="123" width="1" height="1" fill="#000"/>
<rect x="277" y="123" width="2" height="1" fill="#000"/>
<rect x="280" y="123" width="1" height="1" fill="#000"/>
<rect x="288" y="123" width="1" height="1" fill="#000"/>
<rect x="269" y="124" width="1" height="1" fill="#000"/>
<rect x="274" y="124" width="5" height="1" fill="#000"/>
<rect x="280" y="124" width="1" height="1" fill="#000"/>
<rect x="288" y="124" width="1" height="1" fill="#000"/>
<rect x="267" y="125" width="3" height="1" fill="#000"/>
<rect x="274" y="125" width="5" height="1" fill="#000"/>
<rect x="280" y="125" width="1" height="1" fill="#000"/>
<rect x="288" y="125" width="1" height="1" fill="#000"/>
<rect x="267" y="126" width="1" height="1" fill="#000"/>
<rect x="269" y="126" width="1" height="1" fill="#000"/>
<rect x="274" y="126" width="1" height="1" fill="#000"/>
<rect x="276" y="126" width="3" height="1" fill="#000"/>
<rect x="280" y="126" width="9" height="1" fill="#000"/>
<rect x="262" y="127" width="1" height="1" fill="#000"/>
<rect x="267" y="127" width="1" height="1" fill="#000"/>
<rect x="269" y="127" width="6" height="1" fill="#000"/>
<rect x="276" y="127" width="3" height="1" fill="#000"/>
<rect x="280" y="127" width="1" height="1" fill="#000"/>
<rect x="288" y="127" width="1" height="1" fill="#000"/>
<rect x="262" y="128" width="1" height="1" fill="#000"/>
<rect x="267" y="128" width="1" height="1" fill="#000"/>
<rect x="276" y="128" width="3" height="1" fill="#000"/>
<rect x="280" y="128" width="1" height="1" fill="#000"/>
<rect x="288" y="128" width="1" height="1" fill="#000"/>
<rect x="262" y="129" width="1" height="1" fill="#000"/>
<rect x="267" y="129" width="1" height="1" fill="#000"/>
<rect x="276" y="129" width="3" height="1" fill="#000"/>
<rect x="280" y="129" width="1" height="1" fill="#000"/>
<rect x="288" y="129" width="1" height="1" fill="#000"/>
<rect x="262" y="130" width="1" height="1" fill="#000"/>
<rect x="267" y="130" width="1" height="1" fill="#000"/>
<rect x="276" y="130" width="3" height="1" fill="#000"/>
<rect x="280" y="130" width="1" height="1" fill="#000"/>
<rect x="288" y="130" width="1" height="1" fill="#000"/>
<rect x="262" y="131" width="1" height="1" fill="#000"/>
<rect x="267" y="131" width="1" height="1" fill="#000"/>
<rect x="276" y="131" width="3" height="1" fill="#000"/>
<rect x="280" y="131" width="1" height="1" fill="#000"/>
<rect x="288" y="131" width="1" height="1" fill="#000"/>
<rect x="262" y="132" width="1" height="1" fill="#000"/>
<rect x="267" y="132" width="1" height="1" fill="#000"/>
<rect x="276" y="132" width="3" height="1" fill="#000"/>
<rect x="280" y="132" width="1" height="1" fill="#000"/>
<rect x="288" y="132" width="1" height="1" fill="#000"/>
<rect x="262" y="133" width="1" height="1" fill="#000"/>
<rect x="267" y="133" width="1" height="1" fill="#000"/>
<rect x="276" y="133" width="3" height="1" fill="#000"/>
<rect x="280" y="133" width="9" height="1" fill="#000"/>
<rect x="262" y="134" width="1" height="1" fill="#000"/>
<rect x="267" y="134" width="12" height="1" fill="#000"/>
<rect x="280" y="134" width="1" height="1" fill="#000"/>
<rect x="288" y="134" width="1" height="1" fill="#000"/>
<rect x="277" y="135" width="4" height="1" fill="#000"/>
<rect x="288" y="135" width="1" height="1" fill="#000"/>
<rect x="280" y="136" width="1" height="1" fill="#000"/>
<rect x="288" y="136" width="1" height="1" fill="#000"/>
<rect x="262" y="137" width="27" height="1" fill="#000"/>
<rect x="84" y="119" width="178" height="1" fill="#000"/>
<rect x="84" y="137" width="178" height="1" fill="#000"/>
<rect x="88" y="121" width="174" height="14" fill="#000"/>
<rect x="88" y="127" width="175" height="8" fill="#000"/>
<rect x="92" y="122" width="1" height="5" fill="#fff"/>
<rect x="91" y="128" width="4" height="6" fill="#fff"/>
<rect x="98" y="122" width="1" height="5" fill="#fff"/>
<rect x="97" y="128" width="4" height="6" fill="#fff"/>
<rect x="103" y="122" width="1" height="5" fill="#fff"/>
<rect x="102" y="128" width="5" height="6" fill="#fff"/>
<rect x="109" y="122" width="1" height="5" fill="#fff"/>
<rect x="108" y="128" width="4" height="6" fill="#fff"/>
<rect x="115" y="122" width="2" height="5" fill="#fff"/>
<rect x="114" y="128" width="4" height="6" fill="#fff"/>
<rect x="121" y="122" width="2" height="5" fill="#fff"/>
<rect x="120" y="128" width="4" height="6" fill="#fff"/>
<rect x="128" y="122" width="1" height="13" fill="#fff"/>
<rect x="126" y="128" width="5" height="6" fill="#fff"/>
<rect x="134" y="122" width="1" height="13" fill="#fff"/>
<rect x="132" y="128" width="4" height="6" fill="#fff"/>
<rect x="139" y="122" width="1" height="5" fill="#fff"/>
<rect x="138" y="128" width="4" height="6" fill="#fff"/>
<rect x="145" y="122" width="2" height="5" fill="#fff"/>
<rect x="144" y="128" width="4" height="6" fill="#fff"/>
<rect x="151" y="122" width="2" height="5" fill="#fff"/>
<rect x="150" y="128" width="4" height="6" fill="#fff"/>
<rect x="157" y="122" width="2" height="5" fill="#fff"/>
<rect x="156" y="128" width="4" height="6" fill="#fff"/>
<rect x="163" y="122" width="2" height="5" fill="#fff"/>
<rect x="162" y="128" width="4" height="6" fill="#fff"/>
<rect x="169" y="122" width="1" height="5" fill="#fff"/>
<rect x="168" y="128" width="4" height="6" fill="#fff"/>
<rect x="174" y="122" width="1" height="5" fill="#fff"/>
<rect x="173" y="128" width="5" height="6" fill="#fff"/>
<rect x="180" y="122" width="1" height="5" fill="#fff"/>
<rect x="179" y="128" width="4" height="6" fill="#fff"/>
<rect x="187" y="122" width="1" height="13" fill="#fff"/>
<rect x="185" y="128" width="4" height="6" fill="#fff"/>
<rect x="192" y="122" width="1" height="5" fill="#fff"/>
<rect x="191" y="128" width="4" height="6" fill="#fff"/>
<rect x="198" y="122" width="2" height="5" fill="#fff"/>
<rect x="197" y="128" width="4" height="6" fill="#fff"/>
<rect x="203" y="122" width="2" height="5" fill="#fff"/>
<rect x="202" y="128" width="4" height="6" fill="#fff"/>
<rect x="210" y="122" width="2" height="5" fill="#fff"/>
<rect x="209" y="128" width="4" height="6" fill="#fff"/>
<rect x="216" y="122" width="1" height="5" fill="#fff"/>
<rect x="215" y="128" width="4" height="6" fill="#fff"/>
<rect x="222" y="122" width="1" height="5" fill="#fff"/>
<rect x="221" y="128" width="4" height="6" fill="#fff"/>
<rect x="227" y="122" width="1" height="5" fill="#fff"/>
<rect x="226" y="128" width="5" height="6" fill="#fff"/>
<rect x="233" y="122" width="1" height="5" fill="#fff"/>
<rect x="232" y="128" width="4" height="6" fill="#fff"/>
<rect x="239" y="122" width="2" height="5" fill="#fff"/>
<rect x="238" y="128" width="4" height="6" fill="#fff"/>
<rect x="245" y="122" width="2" height="5" fill="#fff"/>
<rect x="244" y="128" width="4" height="6" fill="#fff"/>
<rect x="251" y="122" width="1" height="5" fill="#fff"/>
<rect x="250" y="128" width="4" height="6" fill="#fff"/>
<rect x="257" y="122" width="1" height="5" fill="#fff"/>
<rect x="256" y="128" width="4" height="6" fill="#fff"/>
<rect x="261" y="128" width="1" height="6" fill="#fff"/>
<rect x="89" y="135" width="2" height="1" fill="#000"/>
<rect x="92" y="135" width="2" height="1" fill="#000"/>
<rect x="95" y="135" width="2" height="1" fill="#000"/>
<rect x="98" y="135" width="2" height="1" fill="#000"/>
<rect x="101" y="135" width="2" height="1" fill="#000"/>
<rect x="104" y="135" width="2" height="1" fill="#000"/>
<rect x="107" y="135" width="2" height="1" fill="#000"/>
<rect x="110" y="135" width="2" height="1" fill="#000"/>
<rect x="113" y="135" width="2" height="1" fill="#000"/>
<rect x="116" y="135" width="2" height="1" fill="#000"/>
<rect x="119" y="135" width="2" height="1" fill="#000"/>
<rect x="122" y="135" width="2" height="1" fill="#000"/>
<rect x="125" y="135" width="2" height="1" fill="#000"/>
<rect x="128" y="135" width="2" height="1" fill="#000"/>
<rect x="131" y="135" width="2" height="1" fill="#000"/>
<rect x="134" y="135" width="2" height="1" fill="#000"/>
<rect x="137" y="135" width="2" height="1" fill="#000"/>
<rect x="140" y="135" width="2" height="1" fill="#000"/>
<rect x="143" y="135" width="2" height="1" fill="#000"/>
<rect x="146" y="135" width="2" height="1" fill="#000"/>
<rect x="149" y="135" width="2" height="1" fill="#000"/>
<rect x="152" y="135" width="2" height="1" fill="#000"/>
<rect x="155" y="135" width="2" height="1" fill="#000"/>
<rect x="158" y="135" width="2" height="1" fill="#000"/>
<rect x="161" y="135" width="2" height="1" fill="#000"/>
<rect x="164" y="135" width="2" height="1" fill="#000"/>
<rect x="167" y="135" width="2" height="1" fill="#000"/>
<rect x="170" y="135" width="2" height="1" fill="#000"/>
<rect x="173" y="135" width="2" height="1" fill="#000"/>
<rect x="176" y="135" width="2" height="1" fill="#000"/>
<rect x="179" y="135" width="2" height="1" fill="#000"/>
<rect x="182" y="135" width="2" height="1" fill="#000"/>
<rect x="185" y="135" width="2" height="1" fill="#000"/>
<rect x="188" y="135" width="2" height="1" fill="#000"/>
<rect x="191" y="135" width="2" height="1" fill="#000"/>
<rect x="194" y="135" width="2" height="1" fill="#000"/>
<rect x="197" y="135" width="2" height="1" fill="#000"/>
<rect x="200" y="135" width="2" height="1" fill="#000"/>
<rect x="203" y="135" width="2" height="1" fill="#000"/>
<rect x="206" y="135" width="2" height="1" fill="#000"/>
<rect x="209" y="135" width="2" height="1" fill="#000"/>
<rect x="212" y="135" width="2" height="1" fill="#000"/>
<rect x="215" y="135" width="2" height="1" fill="#000"/>
<rect x="218" y="135" width="2" height="1" fill="#000"/>
<rect x="221" y="135" width="2" height="1" fill="#000"/>
<rect x="224" y="135" width="2" height="1" fill="#000"/>
<rect x="227" y="135" width="2" height="1" fill="#000"/>
<rect x="230" y="135" width="2" height="1" fill="#000"/>
<rect x="233" y="135" width="2" height="1" fill="#000"/>
<rect x="236" y="135" width="2" height="1" fill="#000"/>
<rect x="239" y="135" width="2" height="1" fill="#000"/>
<rect x="242" y="135" width="2" height="1" fill="#000"/>
<rect x="245" y="135" width="2" height="1" fill="#000"/>
<rect x="248" y="135" width="2" height="1" fill="#000"/>
<rect x="251" y="135" width="2" height="1" fill="#000"/>
<rect x="254" y="135" width="2" height="1" fill="#000"/>
<rect x="257" y="135" width="2" height="1" fill="#000"/>
<rect x="260" y="135" width="2" height="1" fill="#000"/>
<rect x="63" y="140" width="25" height="1" fill="#000"/>
<rect x="63" y="141" width="1" height="1" fill="#000"/>
<rect x="70" y="141" width="4" height="1" fill="#000"/>
<rect x="80" y="141" width="1" height="1" fill="#000"/>
<rect x="63" y="142" width="1" height="1" fill="#000"/>
<rect x="70" y="142" width="4" height="1" fill="#000"/>
<rect x="80" y="142" width="1" height="1" fill="#000"/>
<rect x="63" y="143" width="1" height="1" fill="#000"/>
<rect x="70" y="143" width="4" height="1" fill="#000"/>
<rect x="80" y="143" width="1" height="1" fill="#000"/>
<rect x="63" y="144" width="1" height="1" fill="#000"/>
<rect x="70" y="144" width="7" height="1" fill="#000"/>
<rect x="80" y="144" width="1" height="1" fill="#000"/>
<rect x="63" y="145" width="1" height="1" fill="#000"/>
<rect x="70" y="145" width="7" height="1" fill="#000"/>
<rect x="80" y="145" width="4" height="1" fill="#000"/>
<rect x="62" y="146" width="12" height="1" fill="#000"/>
<rect x="76" y="146" width="1" height="1" fill="#000"/>
<rect x="80" y="146" width="1" height="1" fill="#000"/>
<rect x="83" y="146" width="1" height="1" fill="#000"/>
<rect x="62" y="147" width="1" height="1" fill="#000"/>
<rect x="70" y="147" width="4" height="1" fill="#000"/>
<rect x="76" y="147" width="5" height="1" fill="#000"/>
<rect x="83" y="147" width="1" height="1" fill="#000"/>
<rect x="62" y="148" width="1" height="1" fill="#000"/>
<rect x="70" y="148" width="4" height="1" fill="#000"/>
<rect x="83" y="148" width="1" height="1" fill="#000"/>
<rect x="62" y="149" width="1" height="1" fill="#000"/>
<rect x="70" y="149" width="4" height="1" fill="#000"/>
<rect x="83" y="149" width="1" height="1" fill="#000"/>
<rect x="62" y="150" width="1" height="1" fill="#000"/>
<rect x="70" y="150" width="4" height="1" fill="#000"/>
<rect x="83" y="150" width="1" height="1" fill="#000"/>
<rect x="62" y="151" width="1" height="1" fill="#000"/>
<rect x="70" y="151" width="4" height="1" fill="#000"/>
<rect x="83" y="151" width="1" height="1" fill="#000"/>
<rect x="62" y="152" width="1" height="1" fill="#000"/>
<rect x="70" y="152" width="4" height="1" fill="#000"/>
<rect x="83" y="152" width="1" height="1" fill="#000"/>
<rect x="62" y="153" width="12" height="1" fill="#000"/>
<rect x="83" y="153" width="1" height="1" fill="#000"/>
<rect x="63" y="154" width="1" height="1" fill="#000"/>
<rect x="70" y="154" width="14" height="1" fill="#000"/>
<rect x="63" y="155" width="1" height="1" fill="#000"/>
<rect x="70" y="155" width="4" height="1" fill="#000"/>
<rect x="63" y="156" width="1" height="1" fill="#000"/>
<rect x="70" y="156" width="4" height="1" fill="#000"/>
<rect x="63" y="157" width="1" height="1" fill="#000"/>
<rect x="70" y="157" width="1" height="1" fill="#000"/>
<rect x="63" y="158" width="25" height="1" fill="#000"/>
<rect x="262" y="140" width="27" height="1" fill="#000"/>
<rect x="269" y="141" width="1" height="1" fill="#000"/>
<rect x="277" y="141" width="2" height="1" fill="#000"/>
<rect x="280" y="141" width="1" height="1" fill="#000"/>
<rect x="288" y="141" width="1" height="1" fill="#000"/>
<rect x="269" y="142" width="1" height="1" fill="#000"/>
<rect x="277" y="142" width="2" height="1" fill="#000"/>
<rect x="280" y="142" width="1" height="1" fill="#000"/>
<rect x="288" y="142" width="1" height="1" fill="#000"/>
<rect x="269" y="143" width="1" height="1" fill="#000"/>
<rect x="277" y="143" width="2" height="1" fill="#000"/>
<rect x="280" y="143" width="1" height="1" fill="#000"/>
<rect x="288" y="143" width="1" height="1" fill="#000"/>
<rect x="269" y="144" width="1" height="1" fill="#000"/>
<rect x="277" y="144" width="2" height="1" fill="#000"/>
<rect x="280" y="144" width="1" height="1" fill="#000"/>
<rect x="288" y="144" width="1" height="1" fill="#000"/>
<rect x="267" y="145" width="3" height="1" fill="#000"/>
<rect x="274" y="145" width="5" height="1" fill="#000"/>
<rect x="280" y="145" width="1" height="1" fill="#000"/>
<rect x="288" y="145" width="1" height="1" fill="#000"/>
<rect x="267" y="146" width="1" height="1" fill="#000"/>
<rect x="269" y="146" width="1" height="1" fill="#000"/>
<rect x="274" y="146" width="1" height="1" fill="#000"/>
<rect x="276" y="146" width="3" height="1" fill="#000"/>
<rect x="280" y="146" width="1" height="1" fill="#000"/>
<rect x="288" y="146" width="1" height="1" fill="#000"/>
<rect x="267" y="147" width="1" height="1" fill="#000"/>
<rect x="269" y="147" width="6" height="1" fill="#000"/>
<rect x="276" y="147" width="3" height="1" fill="#000"/>
<rect x="280" y="147" width="9" height="1" fill="#000"/>
<rect x="262" y="148" width="1" height="1" fill="#000"/>
<rect x="267" y="148" width="1" height="1" fill="#000"/>
<rect x="276" y="148" width="3" height="1" fill="#000"/>
<rect x="280" y="148" width="1" height="1" fill="#000"/>
<rect x="288" y="148" width="1" height="1" fill="#000"/>
<rect x="262" y="149" width="1" height="1" fill="#000"/>
<rect x="267" y="149" width="1" height="1" fill="#000"/>
<rect x="276" y="149" width="3" height="1" fill="#000"/>
<rect x="280" y="149" width="1" height="1" fill="#000"/>
<rect x="288" y="149" width="1" height="1" fill="#000"/>
<rect x="262" y="150" width="1" height="1" fill="#000"/>
<rect x="267" y="150" width="1" height="1" fill="#000"/>
<rect x="276" y="150" width="3" height="1" fill="#000"/>
<rect x="280" y="150" width="1" height="1" fill="#000"/>
<rect x="288" y="150" width="1" height="1" fill="#000"/>
<rect x="262" y="151" width="1" height="1" fill="#000"/>
<rect x="267" y="151" width="1" height="1" fill="#000"/>
<rect x="276" y="151" width="3" height="1" fill="#000"/>
<rect x="280" y="151" width="1" height="1" fill="#000"/>
<rect x="288" y="151" width="1" height="1" fill="#000"/>
<rect x="262" y="152" width="1" height="1" fill="#000"/>
<rect x="267" y="152" width="1" height="1" fill="#000"/>
<rect x="276" y="152" width="3" height="1" fill="#000"/>
<rect x="280" y="152" width="1" height="1" fill="#000"/>
<rect x="288" y="152" width="1" height="1" fill="#000"/>
<rect x="262" y="153" width="1" height="1" fill="#000"/>
<rect x="267" y="153" width="1" height="1" fill="#000"/>
<rect x="276" y="153" width="3" height="1" fill="#000"/>
<rect x="280" y="153" width="1" height="1" fill="#000"/>
<rect x="288" y="153" width="1" height="1" fill="#000"/>
<rect x="262" y="154" width="1" height="1" fill="#000"/>
<rect x="267" y="154" width="12" height="1" fill="#000"/>
<rect x="280" y="154" width="9" height="1" fill="#000"/>
<rect x="262" y="155" width="1" height="1" fill="#000"/>
<rect x="277" y="155" width="2" height="1" fill="#000"/>
<rect x="280" y="155" width="1" height="1" fill="#000"/>
<rect x="288" y="155" width="1" height="1" fill="#000"/>
<rect x="277" y="156" width="2" height="1" fill="#000"/>
<rect x="280" y="156" width="1" height="1" fill="#000"/>
<rect x="288" y="156" width="1" height="1" fill="#000"/>
<rect x="280" y="157" width="1" height="1" fill="#000"/>
<rect x="288" y="157" width="1" height="1" fill="#000"/>
<rect x="262" y="158" width="27" height="1" fill="#000"/>
<rect x="84" y="140" width="178" height="1" fill="#000"/>
<rect x="84" y="158" width="178" height="1" fill="#000"/>
<rect x="88" y="142" width="174" height="14" fill="#000"/>
<rect x="88" y="148" width="175" height="8" fill="#000"/>
<rect x="92" y="143" width="1" height="5" fill="#fff"/>
<rect x="91" y="149" width="4" height="6" fill="#fff"/>
<rect x="98" y="143" width="1" height="5" fill="#fff"/>
<rect x="97" y="149" width="4" height="6" fill="#fff"/>
<rect x="103" y="143" width="1" height="5" fill="#fff"/>
<rect x="102" y="149" width="5" height="6" fill="#fff"/>
<rect x="109" y="143" width="1" height="5" fill="#fff"/>
<rect x="108" y="149" width="4" height="6" fill="#fff"/>
<rect x="115" y="143" width="2" height="5" fill="#fff"/>
<rect x="114" y="149" width="4" height="6" fill="#fff"/>
<rect x="121" y="143" width="2" height="5" fill="#fff"/>
<rect x="120" y="149" width="4" height="6" fill="#fff"/>
<rect x="128" y="143" width="1" height="13" fill="#fff"/>
<rect x="126" y="149" width="5" height="6" fill="#fff"/>
<rect x="134" y="143" width="1" height="13" fill="#fff"/>
<rect x="132" y="149" width="4" height="6" fill="#fff"/>
<rect x="139" y="143" width="1" height="5" fill="#fff"/>
<rect x="138" y="149" width="4" height="6" fill="#fff"/>
<rect x="145" y="143" width="2" height="5" fill="#fff"/>
<rect x="144" y="149" width="4" height="6" fill="#fff"/>
<rect x="151" y="143" width="2" height="5" fill="#fff"/>
<rect x="150" y="149" width="4" height="6" fill="#fff"/>
<rect x="157" y="143" width="2" height="5" fill="#fff"/>
<rect x="156" y="149" width="4" height="6" fill="#fff"/>
<rect x="163" y="143" width="2" height="5" fill="#fff"/>
<rect x="162" y="149" width="4" height="6" fill="#fff"/>
<rect x="169" y="143" width="1" height="5" fill="#fff"/>
<rect x="168" y="149" width="4" height="6" fill="#fff"/>
<rect x="174" y="143" width="1" height="5" fill="#fff"/>
<rect x="173" y="149" width="5" height="6" fill="#fff"/>
<rect x="180" y="143" width="1" height="5" fill="#fff"/>
<rect x="179" y="149" width="4" height="6" fill="#fff"/>
<rect x="187" y="143" width="1" height="13" fill="#fff"/>
<rect x="185" y="149" width="4" height="6" fill="#fff"/>
<rect x="192" y="143" width="1" height="5" fill="#fff"/>
<rect x="191" y="149" width="4" height="6" fill="#fff"/>
<rect x="198" y="143" width="2" height="5" fill="#fff"/>
<rect x="197" y="149" width="4" height="6" fill="#fff"/>
<rect x="203" y="143" width="2" height="5" fill="#fff"/>
<rect x="202" y="149" width="4" height="6" fill="#fff"/>
<rect x="210" y="143" width="2" height="5" fill="#fff"/>
<rect x="209" y="149" width="4" height="6" fill="#fff"/>
<rect x="216" y="143" width="1" height="5" fill="#fff"/>
<rect x="215" y="149" width="4" height="6" fill="#fff"/>
<rect x="222" y="143" width="1" height="5" fill="#fff"/>
<rect x="221" y="149" width="4" height="6" fill="#fff"/>
<rect x="227" y="143" width="1" height="5" fill="#fff"/>
<rect x="226" y="149" width="5" height="6" fill="#fff"/>
<rect x="233" y="143" width="1" height="5" fill="#fff"/>
<rect x="232" y="149" width="4" height="6" fill="#fff"/>
<rect x="239" y="143" width="2" height="5" fill="#fff"/>
<rect x="238" y="149" width="4" height="6" fill="#fff"/>
<rect x="245" y="143" width="2" height="5" fill="#fff"/>
<rect x="244" y="149" width="4" height="6" fill="#fff"/>
<rect x="251" y="143" width="1" height="5" fill="#fff"/>
<rect x="250" y="149" width="4" height="6" fill="#fff"/>
<rect x="257" y="143" width="1" height="5" fill="#fff"/>
<rect x="256" y="149" width="4" height="6" fill="#fff"/>
<rect x="261" y="149" width="1" height="6" fill="#fff"/>
<rect x="89" y="156" width="2" height="1" fill="#000"/>
<rect x="92" y="156" width="2" height="1" fill="#000"/>
<rect x="95" y="156" width="2" height="1" fill="#000"/>
<rect x="98" y="156" width="2" height="1" fill="#000"/>
<rect x="101" y="156" width="2" height="1" fill="#000"/>
<rect x="104" y="156" width="2" height="1" fill="#000"/>
<rect x="107" y="156" width="2" height="1" fill="#000"/>
<rect x="110" y="156" width="2" height="1" fill="#000"/>
<rect x="113" y="156" width="2" height="1" fill="#000"/>
<rect x="116" y="156" width="2" height="1" fill="#000"/>
<rect x="119" y="156" width="2" height="1" fill="#000"/>
<rect x="122" y="156" width="2" height="1" fill="#000"/>
<rect x="125" y="156" width="2" height="1" fill="#000"/>
<rect x="128" y="156" width="2" height="1" fill="#000"/>
<rect x="131" y="156" width="2" height="1" fill="#000"/>
<rect x="134" y="156" width="2" height="1" fill="#000"/>
<rect x="137" y="156" width="2" height="1" fill="#000"/>
<rect x="140" y="156" width="2" height="1" fill="#000"/>
<rect x="143" y="156" width="2" height="1" fill="#000"/>
<rect x="146" y="156" width="2" height="1" fill="#000"/>
<rect x="149" y="156" width="2" height="1" fill="#000"/>
<rect x="152" y="156" width="2" height="1" fill="#000"/>
<rect x="155" y="156" width="2" height="1" fill="#000"/>
<rect x="158" y="156" width="2" height="1" fill="#000"/>
<rect x="161" y="156" width="2" height="1" fill="#000"/>
<rect x="164" y="156" width="2" height="1" fill="#000"/>
<rect x="167" y="156" width="2" height="1" fill="#000"/>
<rect x="170" y="156" width="2" height="1" fill="#000"/>
<rect x="173" y="156" width="2" height="1" fill="#000"/>
<rect x="176" y="156" width="2" height="1" fill="#000"/>
<rect x="179" y="156" width="2" height="1" fill="#000"/>
<rect x="182" y="156" width="2" height="1" fill="#000"/>
<rect x="185" y="156" width="2" height="1" fill="#000"/>
<rect x="188" y="156" width="2" height="1" fill="#000"/>
<rect x="191" y="156" width="2" height="1" fill="#000"/>
<rect x="194" y="156" width="2" height="1" fill="#000"/>
<rect x="197" y="156" width="2" height="1" fill="#000"/>
<rect x="200" y="156" width="2" height="1" fill="#000"/>
<rect x="203" y="156" width="2" height="1" fill="#000"/>
<rect x="206" y="156" width="2" height="1" fill="#000"/>
<rect x="209" y="156" width="2" height="1" fill="#000"/>
<rect x="212" y="156" width="2" height="1" fill="#000"/>
<rect x="215" y="156" width="2" height="1" fill="#000"/>
<rect x="218" y="156" width="2" height="1" fill="#000"/>
<rect x="221" y="156" width="2" height="1" fill="#000"/>
<rect x="224" y="156" width="2" height="1" fill="#000"/>
<rect x="227" y="156" width="2" height="1" fill="#000"/>
<rect x="230" y="156" width="2" height="1" fill="#000"/>
<rect x="233" y="156" width="2" height="1" fill="#000"/>
<rect x="236" y="156" width="2" height="1" fill="#000"/>
<rect x="239" y="156" width="2" height="1" fill="#000"/>
<rect x="242" y="156" width="2" height="1" fill="#000"/>
<rect x="245" y="156" width="2" height="1" fill="#000"/>
<rect x="248" y="156" width="2" height="1" fill="#000"/>
<rect x="251" y="156" width="2" height="1" fill="#000"/>
<rect x="254" y="156" width="2" height="1" fill="#000"/>
<rect x="257" y="156" width="2" height="1" fill="#000"/>
<rect x="260" y="156" width="2" height="1" fill="#000"/>
<rect x="63" y="160" width="25" height="1" fill="#000"/>
<rect x="63" y="161" width="1" height="1" fill="#000"/>
<rect x="70" y="161" width="4" height="1" fill="#000"/>
<rect x="80" y="161" width="1" height="1" fill="#000"/>
<rect x="63" y="162" width="1" height="1" fill="#000"/>
<rect x="70" y="162" width="4" height="1" fill="#000"/>
<rect x="80" y="162" width="1" height="1" fill="#000"/>
<rect x="63" y="163" width="1" height="1" fill="#000"/>
<rect x="70" y="163" width="4" height="1" fill="#000"/>
<rect x="80" y="163" width="1" height="1" fill="#000"/>
<rect x="63" y="164" width="1" height="1" fill="#000"/>
<rect x="70" y="164" width="4" height="1" fill="#000"/>
<rect x="80" y="164" width="1" height="1" fill="#000"/>
<rect x="63" y="165" width="1" height="1" fill="#000"/>
<rect x="70" y="165" width="7" height="1" fill="#000"/>
<rect x="80" y="165" width="4" height="1" fill="#000"/>
<rect x="63" y="166" width="1" height="1" fill="#000"/>
<rect x="70" y="166" width="4" height="1" fill="#000"/>
<rect x="76" y="166" width="1" height="1" fill="#000"/>
<rect x="80" y="166" width="1" height="1" fill="#000"/>
<rect x="83" y="166" width="1" height="1" fill="#000"/>
<rect x="62" y="167" width="12" height="1" fill="#000"/>
<rect x="76" y="167" width="5" height="1" fill="#000"/>
<rect x="83" y="167" width="1" height="1" fill="#000"/>
<rect x="62" y="168" width="1" height="1" fill="#000"/>
<rect x="70" y="168" width="4" height="1" fill="#000"/>
<rect x="83" y="168" width="1" height="1" fill="#000"/>
<rect x="62" y="169" width="1" height="1" fill="#000"/>
<rect x="70" y="169" width="4" height="1" fill="#000"/>
<rect x="83" y="169" width="1" height="1" fill="#000"/>
<rect x="62" y="170" width="1" height="1" fill="#000"/>
<rect x="70" y="170" width="4" height="1" fill="#000"/>
<rect x="83" y="170" width="1" height="1" fill="#000"/>
<rect x="62" y="171" width="1" height="1" fill="#000"/>
<rect x="70" y="171" width="4" height="1" fill="#000"/>
<rect x="83" y="171" width="1" height="1" fill="#000"/>
<rect x="62" y="172" width="1" height="1" fill="#000"/>
<rect x="70" y="172" width="4" height="1" fill="#000"/>
<rect x="83" y="172" width="1" height="1" fill="#000"/>
<rect x="62" y="173" width="1" height="1" fill="#000"/>
<rect x="70" y="173" width="4" height="1" fill="#000"/>
<rect x="83" y="173" width="1" height="1" fill="#000"/>
<rect x="62" y="174" width="22" height="1" fill="#000"/>
<rect x="63" y="175" width="1" height="1" fill="#000"/>
<rect x="70" y="175" width="4" height="1" fill="#000"/>
<rect x="63" y="176" width="1" height="1" fill="#000"/>
<rect x="70" y="176" width="4" height="1" fill="#000"/>
<rect x="63" y="177" width="1" height="1" fill="#000"/>
<rect x="70" y="177" width="1" height="1" fill="#000"/>
<rect x="63" y="178" width="25" height="1" fill="#000"/>
<rect x="262" y="160" width="27" height="1" fill="#000"/>
<rect x="269" y="161" width="12" height="1" fill="#000"/>
<rect x="288" y="161" width="1" height="1" fill="#000"/>
<rect x="269" y="162" width="1" height="1" fill="#000"/>
<rect x="277" y="162" width="2" height="1" fill="#000"/>
<rect x="280" y="162" width="1" height="1" fill="#000"/>
<rect x="288" y="162" width="1" height="1" fill="#000"/>
<rect x="269" y="163" width="1" height="1" fill="#000"/>
<rect x="277" y="163" width="2" height="1" fill="#000"/>
<rect x="280" y="163" width="1" height="1" fill="#000"/>
<rect x="288" y="163" width="1" height="1" fill="#000"/>
<rect x="269" y="164" width="1" height="1" fill="#000"/>
<rect x="277" y="164" width="2" height="1" fill="#000"/>
<rect x="280" y="164" width="1" height="1" fill="#000"/>
<rect x="288" y="164" width="1" height="1" fill="#000"/>
<rect x="269" y="165" width="1" height="1" fill="#000"/>
<rect x="274" y="165" width="5" height="1" fill="#000"/>
<rect x="280" y="165" width="1" height="1" fill="#000"/>
<rect x="288" y="165" width="1" height="1" fill="#000"/>
<rect x="267" y="166" width="3" height="1" fill="#000"/>
<rect x="274" y="166" width="5" height="1" fill="#000"/>
<rect x="280" y="166" width="1" height="1" fill="#000"/>
<rect x="288" y="166" width="1" height="1" fill="#000"/>
<rect x="267" y="167" width="1" height="1" fill="#000"/>
<rect x="269" y="167" width="1" height="1" fill="#000"/>
<rect x="274" y="167" width="1" height="1" fill="#000"/>
<rect x="276" y="167" width="3" height="1" fill="#000"/>
<rect x="280" y="167" width="9" height="1" fill="#000"/>
<rect x="262" y="168" width="1" height="1" fill="#000"/>
<rect x="267" y="168" width="1" height="1" fill="#000"/>
<rect x="269" y="168" width="6" height="1" fill="#000"/>
<rect x="276" y="168" width="3" height="1" fill="#000"/>
<rect x="280" y="168" width="1" height="1" fill="#000"/>
<rect x="288" y="168" width="1" height="1" fill="#000"/>
<rect x="262" y="169" width="1" height="1" fill="#000"/>
<rect x="267" y="169" width="1" height="1" fill="#000"/>
<rect x="276" y="169" width="3" height="1" fill="#000"/>
<rect x="280" y="169" width="1" height="1" fill="#000"/>
<rect x="288" y="169" width="1" height="1" fill="#000"/>
<rect x="262" y="170" width="1" height="1" fill="#000"/>
<rect x="267" y="170" width="1" height="1" fill="#000"/>
<rect x="276" y="170" width="3" height="1" fill="#000"/>
<rect x="280" y="170" width="1" height="1" fill="#000"/>
<rect x="288" y="170" width="1" height="1" fill="#000"/>
<rect x="262" y="171" width="1" height="1" fill="#000"/>
<rect x="267" y="171" width="1" height="1" fill="#000"/>
<rect x="276" y="171" width="3" height="1" fill="#000"/>
<rect x="280" y="171" width="1" height="1" fill="#000"/>
<rect x="288" y="171" width="1" height="1" fill="#000"/>
<rect x="262" y="172" width="1" height="1" fill="#000"/>
<rect x="267" y="172" width="1" height="1" fill="#000"/>
<rect x="276" y="172" width="3" height="1" fill="#000"/>
<rect x="280" y="172" width="1" height="1" fill="#000"/>
<rect x="288" y="172" width="1" height="1" fill="#000"/>
<rect x="262" y="173" width="1" height="1" fill="#000"/>
<rect x="267" y="173" width="1" height="1" fill="#000"/>
<rect x="276" y="173" width="3" height="1" fill="#000"/>
<rect x="280" y="173" width="1" height="1" fill="#000"/>
<rect x="288" y="173" width="1" height="1" fill="#000"/>
<rect x="262" y="174" width="1" height="1" fill="#000"/>
<rect x="267" y="174" width="1" height="1" fill="#000"/>
<rect x="276" y="174" width="3" height="1" fill="#000"/>
<rect x="280" y="174" width="9" height="1" fill="#000"/>
<rect x="262" y="175" width="1" height="1" fill="#000"/>
<rect x="267" y="175" width="12" height="1" fill="#000"/>
<rect x="280" y="175" width="1" height="1" fill="#000"/>
<rect x="288" y="175" width="1" height="1" fill="#000"/>
<rect x="277" y="176" width="4" height="1" fill="#000"/>
<rect x="288" y="176" width="1" height="1" fill="#000"/>
<rect x="280" y="177" width="1" height="1" fill="#000"/>
<rect x="288" y="177" width="1" height="1" fill="#000"/>
<rect x="262" y="178" width="27" height="1" fill="#000"/>
<rect x="84" y="160" width="178" height="1" fill="#000"/>
<rect x="84" y="178" width="178" height="1" fill="#000"/>
<rect x="88" y="162" width="174" height="14" fill="#000"/>
<rect x="88" y="168" width="175" height="8" fill="#000"/>
<rect x="92" y="163" width="1" height="5" fill="#fff"/>
<rect x="91" y="169" width="4" height="6" fill="#fff"/>
<rect x="98" y="163" width="1" height="5" fill="#fff"/>
<rect x="97" y="169" width="4" height="6" fill="#fff"/>
<rect x="103" y="163" width="1" height="5" fill="#fff"/>
<rect x="102" y="169" width="5" height="6" fill="#fff"/>
<rect x="109" y="163" width="1" height="5" fill="#fff"/>
<rect x="108" y="169" width="4" height="6" fill="#fff"/>
<rect x="115" y="163" width="2" height="5" fill="#fff"/>
<rect x="114" y="169" width="4" height="6" fill="#fff"/>
<rect x="121" y="163" width="2" height="5" fill="#fff"/>
<rect x="120" y="169" width="4" height="6" fill="#fff"/>
<rect x="128" y="163" width="1" height="13" fill="#fff"/>
<rect x="126" y="169" width="5" height="6" fill="#fff"/>
<rect x="134" y="163" width="1" height="13" fill="#fff"/>
<rect x="132" y="169" width="4" height="6" fill="#fff"/>
<rect x="139" y="163" width="1" height="5" fill="#fff"/>
<rect x="138" y="169" width="4" height="6" fill="#fff"/>
<rect x="145" y="163" width="2" height="5" fill="#fff"/>
<rect x="144" y="169" width="4" height="6" fill="#fff"/>
<rect x="151" y="163" width="2" height="5" fill="#fff"/>
<rect x="150" y="169" width="4" height="6" fill="#fff"/>
<rect x="157" y="163" width="2" height="5" fill="#fff"/>
<rect x="156" y="169" width="4" height="6" fill="#fff"/>
<rect x="163" y="163" width="2" height="5" fill="#fff"/>
<rect x="162" y="169" width="4" height="6" fill="#fff"/>
<rect x="169" y="163" width="1" height="5" fill="#fff"/>
<rect x="168" y="169" width="4" height="6" fill="#fff"/>
<rect x="174" y="163" width="1" height="5" fill="#fff"/>
<rect x="173" y="169" width="5" height="6" fill="#fff"/>
<rect x="180" y="163" width="1" height="5" fill="#fff"/>
<rect x="179" y="169" width="4" height="6" fill="#fff"/>
<rect x="187" y="163" width="1" height="13" fill="#fff"/>
<rect x="185" y="169" width="4" height="6" fill="#fff"/>
<rect x="192" y="163" width="1" height="5" fill="#fff"/>
<rect x="191" y="169" width="4" height="6" fill="#fff"/>
<rect x="198" y="163" width="2" height="5" fill="#fff"/>
<rect x="197" y="169" width="4" height="6" fill="#fff"/>
<rect x="203" y="163" width="2" height="5" fill="#fff"/>
<rect x="202" y="169" width="4" height="6" fill="#fff"/>
<rect x="210" y="163" width="2" height="5" fill="#fff"/>
<rect x="209" y="169" width="4" height="6" fill="#fff"/>
<rect x="216" y="163" width="1" height="5" fill="#fff"/>
<rect x="215" y="169" width="4" height="6" fill="#fff"/>
<rect x="222" y="163" width="1" height="5" fill="#fff"/>
<rect x="221" y="169" width="4" height="6" fill="#fff"/>
<rect x="227" y="163" width="1" height="5" fill="#fff"/>
<rect x="226" y="169" width="5" height="6" fill="#fff"/>
<rect x="233" y="163" width="1" height="5" fill="#fff"/>
<rect x="232" y="169" width="4" height="6" fill="#fff"/>
<rect x="239" y="163" width="2" height="5" fill="#fff"/>
<rect x="238" y="169" width="4" height="6" fill="#fff"/>
<rect x="245" y="163" width="2" height="5" fill="#fff"/>
<rect x="244" y="169" width="4" height="6" fill="#fff"/>
<rect x="251" y="163" width="1" height="5" fill="#fff"/>
<rect x="250" y="169" width="4" height="6" fill="#fff"/>
<rect x="257" y="163" width="1" height="5" fill="#fff"/>
<rect x="256" y="169" width="4" height="6" fill="#fff"/>
<rect x="261" y="169" width="1" height="6" fill="#fff"/>
<rect x="89" y="176" width="2" height="1" fill="#000"/>
<rect x="92" y="176" width="2" height="1" fill="#000"/>
<rect x="95" y="176" width="2" height="1" fill="#000"/>
<rect x="98" y="176" width="2" height="1" fill="#000"/>
<rect x="101" y="176" width="2" height="1" fill="#000"/>
<rect x="104" y="176" width="2" height="1" fill="#000"/>
<rect x="107" y="176" width="2" height="1" fill="#000"/>
<rect x="110" y="176" width="2" height="1" fill="#000"/>
<rect x="113" y="176" width="2" height="1" fill="#000"/>
<rect x="116" y="176" width="2" height="1" fill="#000"/>
<rect x="119" y="176" width="2" height="1" fill="#000"/>
<rect x="122" y="176" width="2" height="1" fill="#000"/>
<rect x="125" y="176" width="2" height="1" fill="#000"/>
<rect x="128" y="176" width="2" height="1" fill="#000"/>
<rect x="131" y="176" width="2" height="1" fill="#000"/>
<rect x="134" y="176" width="2" height="1" fill="#000"/>
<rect x="137" y="176" width="2" height="1" fill="#000"/>
<rect x="140" y="176" width="2" height="1" fill="#000"/>
<rect x="143" y="176" width="2" height="1" fill="#000"/>
<rect x="146" y="176" width="2" height="1" fill="#000"/>
<rect x="149" y="176" width="2" height="1" fill="#000"/>
<rect x="152" y="176" width="2" height="1" fill="#000"/>
<rect x="155" y="176" width="2" height="1" fill="#000"/>
<rect x="158" y="176" width="2" height="1" fill="#000"/>
<rect x="161" y="176" width="2" height="1" fill="#000"/>
<rect x="164" y="176" width="2" height="1" fill="#000"/>
<rect x="167" y="176" width="2" height="1" fill="#000"/>
<rect x="170" y="176" width="2" height="1" fill="#000"/>
<rect x="173" y="176" width="2" height="1" fill="#000"/>
<rect x="176" y="176" width="2" height="1" fill="#000"/>
<rect x="179" y="176" width="2" height="1" fill="#000"/>
<rect x="182" y="176" width="2" height="1" fill="#000"/>
<rect x="185" y="176" width="2" height="1" fill="#000"/>
<rect x="188" y="176" width="2" height="1" fill="#000"/>
<rect x="191" y="176" width="2" height="1" fill="#000"/>
<rect x="194" y="176" width="2" height="1" fill="#000"/>
<rect x="197" y="176" width="2" height="1" fill="#000"/>
<rect x="200" y="176" width="2" height="1" fill="#000"/>
<rect x="203" y="176" width="2" height="1" fill="#000"/>
<rect x="206" y="176" width="2" height="1" fill="#000"/>
<rect x="209" y="176" width="2" height="1" fill="#000"/>
<rect x="212" y="176" width="2" height="1" fill="#000"/>
<rect x="215" y="176" width="2" height="1" fill="#000"/>
<rect x="218" y="176" width="2" height="1" fill="#000"/>
<rect x="221" y="176" width="2" height="1" fill="#000"/>
<rect x="224" y="176" width="2" height="1" fill="#000"/>
<rect x="227" y="176" width="2" height="1" fill="#000"/>
<rect x="230" y="176" width="2" height="1" fill="#000"/>
<rect x="233" y="176" width="2" height="1" fill="#000"/>
<rect x="236" y="176" width="2" height="1" fill="#000"/>
<rect x="239" y="176" width="2" height="1" fill="#000"/>
<rect x="242" y="176" width="2" height="1" fill="#000"/>
<rect x="245" y="176" width="2" height="1" fill="#000"/>
<rect x="248" y="176" width="2" height="1" fill="#000"/>
<rect x="251" y="176" width="2" height="1" fill="#000"/>
<rect x="254" y="176" width="2" height="1" fill="#000"/>
<rect x="257" y="176" width="2" height="1" fill="#000"/>
<rect x="260" y="176" width="2" height="1" fill="#000"/>
<rect x="63" y="180" width="25" height="1" fill="#000"/>
<rect x="63" y="181" width="1" height="1" fill="#000"/>
<rect x="70" y="181" width="4" height="1" fill="#000"/>
<rect x="80" y="181" width="1" height="1" fill="#000"/>
<rect x="63" y="182" width="1" height="1" fill="#000"/>
<rect x="70" y="182" width="4" height="1" fill="#000"/>
<rect x="80" y="182" width="1" height="1" fill="#000"/>
<rect x="63" y="183" width="1" height="1" fill="#000"/>
<rect x="70" y="183" width="4" height="1" fill="#000"/>
<rect x="80" y="183" width="1" height="1" fill="#000"/>
<rect x="63" y="184" width="1" height="1" fill="#000"/>
<rect x="70" y="184" width="4" height="1" fill="#000"/>
<rect x="80" y="184" width="1" height="1" fill="#000"/>
<rect x="63" y="185" width="1" height="1" fill="#000"/>
<rect x="70" y="185" width="7" height="1" fill="#000"/>
<rect x="80" y="185" width="4" height="1" fill="#000"/>
<rect x="63" y="186" width="1" height="1" fill="#000"/>
<rect x="70" y="186" width="4" height="1" fill="#000"/>
<rect x="76" y="186" width="1" height="1" fill="#000"/>
<rect x="80" y="186" width="1" height="1" fill="#000"/>
<rect x="83" y="186" width="1" height="1" fill="#000"/>
<rect x="62" y="187" width="12" height="1" fill="#000"/>
<rect x="76" y="187" width="5" height="1" fill="#000"/>
<rect x="83" y="187" width="1" height="1" fill="#000"/>
<rect x="62" y="188" width="1" height="1" fill="#000"/>
<rect x="70" y="188" width="4" height="1" fill="#000"/>
<rect x="83" y="188" width="1" height="1" fill="#000"/>
<rect x="62" y="189" width="1" height="1" fill="#000"/>
<rect x="70" y="189" width="4" height="1" fill="#000"/>
<rect x="83" y="189" width="1" height="1" fill="#000"/>
<rect x="62" y="190" width="1" height="1" fill="#000"/>
<rect x="70" y="190" width="4" height="1" fill="#000"/>
<rect x="83" y="190" width="1" height="1" fill="#000"/>
<rect x="62" y="191" width="1" height="1" fill="#000"/>
<rect x="70" y="191" width="4" height="1" fill="#000"/>
<rect x="83" y="191" width="1" height="1" fill="#000"/>
<rect x="62" y="192" width="1" height="1" fill="#000"/>
<rect x="70" y="192" width="4" height="1" fill="#000"/>
<rect x="83" y="192" width="1" height="1" fill="#000"/>
<rect x="62" y="193" width="1" height="1" fill="#000"/>
<rect x="70" y="193" width="4" height="1" fill="#000"/>
<rect x="83" y="193" width="1" height="1" fill="#000"/>
<rect x="62" y="194" width="22" height="1" fill="#000"/>
<rect x="63" y="195" width="1" height="1" fill="#000"/>
<rect x="70" y="195" width="4" height="1" fill="#000"/>
<rect x="63" y="196" width="1" height="1" fill="#000"/>
<rect x="70" y="196" width="4" height="1" fill="#000"/>
<rect x="63" y="197" width="1" height="1" fill="#000"/>
<rect x="70" y="197" width="1" height="1" fill="#000"/>
<rect x="63" y="198" width="25" height="1" fill="#000"/>
<rect x="262" y="180" width="27" height="1" fill="#000"/>
<rect x="269" y="181" width="12" height="1" fill="#000"/>
<rect x="288" y="181" width="1" height="1" fill="#000"/>
<rect x="269" y="182" width="1" height="1" fill="#000"/>
<rect x="277" y="182" width="2" height="1" fill="#000"/>
<rect x="280" y="182" width="1" height="1" fill="#000"/>
<rect x="288" y="182" width="1" height="1" fill="#000"/>
<rect x="269" y="183" width="1" height="1" fill="#000"/>
<rect x="277" y="183" width="2" height="1" fill="#000"/>
<rect x="280" y="183" width="1" height="1" fill="#000"/>
<rect x="288" y="183" width="1" height="1" fill="#000"/>
<rect x="269" y="184" width="1" height="1" fill="#000"/>
<rect x="277" y="184" width="2" height="1" fill="#000"/>
<rect x="280" y="184" width="1" height="1" fill="#000"/>
<rect x="288" y="184" width="1" height="1" fill="#000"/>
<rect x="269" y="185" width="1" height="1" fill="#000"/>
<rect x="274" y="185" width="5" height="1" fill="#000"/>
<rect x="280" y="185" width="1" height="1" fill="#000"/>
<rect x="288" y="185" width="1" height="1" fill="#000"/>
<rect x="267" y="186" width="3" height="1" fill="#000"/>
<rect x="274" y="186" width="5" height="1" fill="#000"/>
<rect x="280" y="186" width="1" height="1" fill="#000"/>
<rect x="288" y="186" width="1" height="1" fill="#000"/>
<rect x="267" y="187" width="1" height="1" fill="#000"/>
<rect x="269" y="187" width="1" height="1" fill="#000"/>
<rect x="274" y="187" width="1" height="1" fill="#000"/>
<rect x="276" y="187" width="3" height="1" fill="#000"/>
<rect x="280" y="187" width="9" height="1" fill="#000"/>
<rect x="262" y="188" width="1" height="1" fill="#000"/>
<rect x="267" y="188" width="1" height="1" fill="#000"/>
<rect x="269" y="188" width="6" height="1" fill="#000"/>
<rect x="276" y="188" width="3" height="1" fill="#000"/>
<rect x="280" y="188" width="1" height="1" fill="#000"/>
<rect x="288" y="188" width="1" height="1" fill="#000"/>
<rect x="262" y="189" width="1" height="1" fill="#000"/>
<rect x="267" y="189" width="1" height="1" fill="#000"/>
<rect x="276" y="189" width="3" height="1" fill="#000"/>
<rect x="280" y="189" width="1" height="1" fill="#000"/>
<rect x="288" y="189" width="1" height="1" fill="#000"/>
<rect x="262" y="190" width="1" height="1" fill="#000"/>
<rect x="267" y="190" width="1" height="1" fill="#000"/>
<rect x="276" y="190" width="3" height="1" fill="#000"/>
<rect x="280" y="190" width="1" height="1" fill="#000"/>
<rect x="288" y="190" width="1" height="1" fill="#000"/>
<rect x="262" y="191" width="1" height="1" fill="#000"/>
<rect x="267" y="191" width="1" height="1" fill="#000"/>
<rect x="276" y="191" width="3" height="1" fill="#000"/>
<rect x="280" y="191" width="1" height="1" fill="#000"/>
<rect x="288" y="191" width="1" height="1" fill="#000"/>
<rect x="262" y="192" width="1" height="1" fill="#000"/>
<rect x="267" y="192" width="1" height="1" fill="#000"/>
<rect x="276" y="192" width="3" height="1" fill="#000"/>
<rect x="280" y="192" width="1" height="1" fill="#000"/>
<rect x="288" y="192" width="1" height="1" fill="#000"/>
<rect x="262" y="193" width="1" height="1" fill="#000"/>
<rect x="267" y="193" width="1" height="1" fill="#000"/>
<rect x="276" y="193" width="3" height="1" fill="#000"/>
<rect x="280" y="193" width="1" height="1" fill="#000"/>
<rect x="288" y="193" width="1" height="1" fill="#000"/>
<rect x="262" y="194" width="1" height="1" fill="#000"/>
<rect x="267" y="194" width="1" height="1" fill="#000"/>
<rect x="276" y="194" width="3" height="1" fill="#000"/>
<rect x="280" y="194" width="9" height="1" fill="#000"/>
<rect x="262" y="195" width="1" height="1" fill="#000"/>
<rect x="267" y="195" width="12" height="1" fill="#000"/>
<rect x="280" y="195" width="1" height="1" fill="#000"/>
<rect x="288" y="195" width="1" height="1" fill="#000"/>
<rect x="277" y="196" width="4" height="1" fill="#000"/>
<rect x="288" y="196" width="1" height="1" fill="#000"/>
<rect x="280" y="197" width="1" height="1" fill="#000"/>
<rect x="288" y="197" width="1" height="1" fill="#000"/>
<rect x="262" y="198" width="27" height="1" fill="#000"/>
<rect x="84" y="180" width="178" height="1" fill="#000"/>
<rect x="84" y="198" width="178" height="1" fill="#000"/>
<rect x="88" y="182" width="174" height="14" fill="#000"/>
<rect x="88" y="188" width="175" height="8" fill="#000"/>
<rect x="92" y="183" width="1" height="5" fill="#fff"/>
<rect x="91" y="189" width="4" height="6" fill="#fff"/>
<rect x="98" y="183" width="1" height="5" fill="#fff"/>
<rect x="97" y="189" width="4" height="6" fill="#fff"/>
<rect x="103" y="183" width="1" height="5" fill="#fff"/>
<rect x="102" y="189" width="5" height="6" fill="#fff"/>
<rect x="109" y="183" width="1" height="5" fill="#fff"/>
<rect x="108" y="189" width="4" height="6" fill="#fff"/>
<rect x="115" y="183" width="2" height="5" fill="#fff"/>
<rect x="114" y="189" width="4" height="6" fill="#fff"/>
<rect x="121" y="183" width="2" height="5" fill="#fff"/>
<rect x="120" y="189" width="4" height="6" fill="#fff"/>
<rect x="128" y="183" width="1" height="13" fill="#fff"/>
<rect x="126" y="189" width="5" height="6" fill="#fff"/>
<rect x="134" y="183" width="1" height="13" fill="#fff"/>
<rect x="132" y="189" width="4" height="6" fill="#fff"/>
<rect x="139" y="183" width="1" height="5" fill="#fff"/>
<rect x="138" y="189" width="4" height="6" fill="#fff"/>
<rect x="145" y="183" width="2" height="5" fill="#fff"/>
<rect x="144" y="189" width="4" height="6" fill="#fff"/>
<rect x="151" y="183" width="2" height="5" fill="#fff"/>
<rect x="150" y="189" width="4" height="6" fill="#fff"/>
<rect x="157" y="183" width="2" height="5" fill="#fff"/>
<rect x="156" y="189" width="4" height="6" fill="#fff"/>
<rect x="163" y="183" width="2" height="5" fill="#fff"/>
<rect x="162" y="189" width="4" height="6" fill="#fff"/>
<rect x="169" y="183" width="1" height="5" fill="#fff"/>
<rect x="168" y="189" width="4" height="6" fill="#fff"/>
<rect x="174" y="183" width="1" height="5" fill="#fff"/>
<rect x="173" y="189" width="5" height="6" fill="#fff"/>
<rect x="180" y="183" width="1" height="5" fill="#fff"/>
<rect x="179" y="189" width="4" height="6" fill="#fff"/>
<rect x="187" y="183" width="1" height="13" fill="#fff"/>
<rect x="185" y="189" width="4" height="6" fill="#fff"/>
<rect x="192" y="183" width="1" height="5" fill="#fff"/>
<rect x="191" y="189" width="4" height="6" fill="#fff"/>
<rect x="198" y="183" width="2" height="5" fill="#fff"/>
<rect x="197" y="189" width="4" height="6" fill="#fff"/>
<rect x="203" y="183" width="2" height="5" fill="#fff"/>
<rect x="202" y="189" width="4" height="6" fill="#fff"/>
<rect x="210" y="183" width="2" height="5" fill="#fff"/>
<rect x="209" y="189" width="4" height="6" fill="#fff"/>
<rect x="216" y="183" width="1" height="5" fill="#fff"/>
<rect x="215" y="189" width="4" height="6" fill="#fff"/>
<rect x="222" y="183" width="1" height="5" fill="#fff"/>
<rect x="221" y="189" width="4" height="6" fill="#fff"/>
<rect x="227" y="183" width="1" height="5" fill="#fff"/>
<rect x="226" y="189" width="5" height="6" fill="#fff"/>
<rect x="233" y="183" width="1" height="5" fill="#fff"/>
<rect x="232" y="189" width="4" height="6" fill="#fff"/>
<rect x="239" y="183" width="2" height="5" fill="#fff"/>
<rect x="238" y="189" width="4" height="6" fill="#fff"/>
<rect x="245" y="183" width="2" height="5" fill="#fff"/>
<rect x="244" y="189" width="4" height="6" fill="#fff"/>
<rect x="251" y="183" width="1" height="5" fill="#fff"/>
<rect x="250" y="189" width="4" height="6" fill="#fff"/>
<rect x="257" y="183" width="1" height="5" fill="#fff"/>
<rect x="256" y="189" width="4" height="6" fill="#fff"/>
<rect x="261" y="189" width="1" height="6" fill="#fff"/>
<rect x="89" y="196" width="2" height="1" fill="#000"/>
<rect x="92" y="196" width="2" height="1" fill="#000"/>
<rect x="95" y="196" width="2" height="1" fill="#000"/>
<rect x="98" y="196" width="2" height="1" fill="#000"/>
<rect x="101" y="196" width="2" height="1" fill="#000"/>
<rect x="104" y="196" width="2" height="1" fill="#000"/>
<rect x="107" y="196" width="2" height="1" fill="#000"/>
<rect x="110" y="196" width="2" height="1" fill="#000"/>
<rect x="113" y="196" width="2" height="1" fill="#000"/>
<rect x="116" y="196" width="2" height="1" fill="#000"/>
<rect x="119" y="196" width="2" height="1" fill="#000"/>
<rect x="122" y="196" width="2" height="1" fill="#000"/>
<rect x="125" y="196" width="2" height="1" fill="#000"/>
<rect x="128" y="196" width="2" height="1" fill="#000"/>
<rect x="131" y="196" width="2" height="1" fill="#000"/>
<rect x="134" y="196" width="2" height="1" fill="#000"/>
<rect x="137" y="196" width="2" height="1" fill="#000"/>
<rect x="140" y="196" width="2" height="1" fill="#000"/>
<rect x="143" y="196" width="2" height="1" fill="#000"/>
<rect x="146" y="196" width="2" height="1" fill="#000"/>
<rect x="149" y="196" width="2" height="1" fill="#000"/>
<rect x="152" y="196" width="2" height="1" fill="#000"/>
<rect x="155" y="196" width="2" height="1" fill="#000"/>
<rect x="158" y="196" width="2" height="1" fill="#000"/>
<rect x="161" y="196" width="2" height="1" fill="#000"/>
<rect x="164" y="196" width="2" height="1" fill="#000"/>
<rect x="167" y="196" width="2" height="1" fill="#000"/>
<rect x="170" y="196" width="2" height="1" fill="#000"/>
<rect x="173" y="196" width="2" height="1" fill="#000"/>
<rect x="176" y="196" width="2" height="1" fill="#000"/>
<rect x="179" y="196" width="2" height="1" fill="#000"/>
<rect x="182" y="196" width="2" height="1" fill="#000"/>
<rect x="185" y="196" width="2" height="1" fill="#000"/>
<rect x="188" y="196" width="2" height="1" fill="#000"/>
<rect x="191" y="196" width="2" height="1" fill="#000"/>
<rect x="194" y="196" width="2" height="1" fill="#000"/>
<rect x="197" y="196" width="2" height="1" fill="#000"/>
<rect x="200" y="196" width="2" height="1" fill="#000"/>
<rect x="203" y="196" width="2" height="1" fill="#000"/>
<rect x="206" y="196" width="2" height="1" fill="#000"/>
<rect x="209" y="196" width="2" height="1" fill="#000"/>
<rect x="212" y="196" width="2" height="1" fill="#000"/>
<rect x="215" y="196" width="2" height="1" fill="#000"/>
<rect x="218" y="196" width="2" height="1" fill="#000"/>
<rect x="221" y="196" width="2" height="1" fill="#000"/>
<rect x="224" y="196" width="2" height="1" fill="#000"/>
<rect x="227" y="196" width="2" height="1" fill="#000"/>
<rect x="230" y="196" width="2" height="1" fill="#000"/>
<rect x="233" y="196" width="2" height="1" fill="#000"/>
<rect x="236" y="196" width="2" height="1" fill="#000"/>
<rect x="239" y="196" width="2" height="1" fill="#000"/>
<rect x="242" y="196" width="2" height="1" fill="#000"/>
<rect x="245" y="196" width="2" height="1" fill="#000"/>
<rect x="248" y="196" width="2" height="1" fill="#000"/>
<rect x="251" y="196" width="2" height="1" fill="#000"/>
<rect x="254" y="196" width="2" height="1" fill="#000"/>
<rect x="257" y="196" width="2" height="1" fill="#000"/>
<rect x="260" y="196" width="2" height="1" fill="#000"/>
<rect x="63" y="200" width="25" height="1" fill="#000"/>
<rect x="63" y="201" width="1" height="1" fill="#000"/>
<rect x="70" y="201" width="4" height="1" fill="#000"/>
<rect x="80" y="201" width="1" height="1" fill="#000"/>
<rect x="63" y="202" width="1" height="1" fill="#000"/>
<rect x="70" y="202" width="4" height="1" fill="#000"/>
<rect x="80" y="202" width="1" height="1" fill="#000"/>
<rect x="63" y="203" width="1" height="1" fill="#000"/>
<rect x="70" y="203" width="4" height="1" fill="#000"/>
<rect x="80" y="203" width="1" height="1" fill="#000"/>
<rect x="63" y="204" width="1" height="1" fill="#000"/>
<rect x="70" y="204" width="4" height="1" fill="#000"/>
<rect x="80" y="204" width="1" height="1" fill="#000"/>
<rect x="63" y="205" width="1" height="1" fill="#000"/>
<rect x="70" y="205" width="7" height="1" fill="#000"/>
<rect x="80" y="205" width="4" height="1" fill="#000"/>
<rect x="63" y="206" width="1" height="1" fill="#000"/>
<rect x="70" y="206" width="4" height="1" fill="#000"/>
<rect x="76" y="206" width="1" height="1" fill="#000"/>
<rect x="80" y="206" width="1" height="1" fill="#000"/>
<rect x="83" y="206" width="1" height="1" fill="#000"/>
<rect x="62" y="207" width="12" height="1" fill="#000"/>
<rect x="76" y="207" width="5" height="1" fill="#000"/>
<rect x="83" y="207" width="1" height="1" fill="#000"/>
<rect x="62" y="208" width="1" height="1" fill="#000"/>
<rect x="70" y="208" width="4" height="1" fill="#000"/>
<rect x="83" y="208" width="1" height="1" fill="#000"/>
<rect x="62" y="209" width="1" height="1" fill="#000"/>
<rect x="70" y="209" width="4" height="1" fill="#000"/>
<rect x="83" y="209" width="1" height="1" fill="#000"/>
<rect x="62" y="210" width="1" height="1" fill="#000"/>
<rect x="70" y="210" width="4" height="1" fill="#000"/>
<rect x="83" y="210" width="1" height="1" fill="#000"/>
<rect x="62" y="211" width="1" height="1" fill="#000"/>
<rect x="70" y="211" width="4" height="1" fill="#000"/>
<rect x="83" y="211" width="1" height="1" fill="#000"/>
<rect x="62" y="212" width="1" height="1" fill="#000"/>
<rect x="70" y="212" width="4" height="1" fill="#000"/>
<rect x="83" y="212" width="1" height="1" fill="#000"/>
<rect x="62" y="213" width="1" height="1" fill="#000"/>
<rect x="70" y="213" width="4" height="1" fill="#000"/>
<rect x="83" y="213" width="1" height="1" fill="#000"/>
<rect x="62" y="214" width="22" height="1" fill="#000"/>
<rect x="63" y="215" width="1" height="1" fill="#000"/>
<rect x="70" y="215" width="4" height="1" fill="#000"/>
<rect x="63" y="216" width="1" height="1" fill="#000"/>
<rect x="70" y="216" width="4" height="1" fill="#000"/>
<rect x="63" y="217" width="1" height="1" fill="#000"/>
<rect x="70" y="217" width="1" height="1" fill="#000"/>
<rect x="63" y="218" width="25" height="1" fill="#000"/>
<rect x="262" y="200" width="27" height="1" fill="#000"/>
<rect x="269" y="201" width="12" height="1" fill="#000"/>
<rect x="288" y="201" width="1" height="1" fill="#000"/>
<rect x="269" y="202" width="1" height="1" fill="#000"/>
<rect x="277" y="202" width="2" height="1" fill="#000"/>
<rect x="280" y="202" width="1" height="1" fill="#000"/>
<rect x="288" y="202" width="1" height="1" fill="#000"/>
<rect x="269" y="203" width="1" height="1" fill="#000"/>
<rect x="277" y="203" width="2" height="1" fill="#000"/>
<rect x="280" y="203" width="1" height="1" fill="#000"/>
<rect x="288" y="203" width="1" height="1" fill="#000"/>
<rect x="269" y="204" width="1" height="1" fill="#000"/>
<rect x="277" y="204" width="2" height="1" fill="#000"/>
<rect x="280" y="204" width="1" height="1" fill="#000"/>
<rect x="288" y="204" width="1" height="1" fill="#000"/>
<rect x="269" y="205" width="1" height="1" fill="#000"/>
<rect x="274" y="205" width="5" height="1" fill="#000"/>
<rect x="280" y="205" width="1" height="1" fill="#000"/>
<rect x="288" y="205" width="1" height="1" fill="#000"/>
<rect x="267" y="206" width="3" height="1" fill="#000"/>
<rect x="274" y="206" width="5" height="1" fill="#000"/>
<rect x="280" y="206" width="1" height="1" fill="#000"/>
<rect x="288" y="206" width="1" height="1" fill="#000"/>
<rect x="267" y="207" width="1" height="1" fill="#000"/>
<rect x="269" y="207" width="1" height="1" fill="#000"/>
<rect x="274" y="207" width="1" height="1" fill="#000"/>
<rect x="276" y="207" width="3" height="1" fill="#000"/>
<rect x="280" y="207" width="9" height="1" fill="#000"/>
<rect x="262" y="208" width="1" height="1" fill="#000"/>
<rect x="267" y="208" width="1" height="1" fill="#000"/>
<rect x="269" y="208" width="6" height="1" fill="#000"/>
<rect x="276" y="208" width="3" height="1" fill="#000"/>
<rect x="280" y="208" width="1" height="1" fill="#000"/>
<rect x="288" y="208" width="1" height="1" fill="#000"/>
<rect x="262" y="209" width="1" height="1" fill="#000"/>
<rect x="267" y="209" width="1" height="1" fill="#000"/>
<rect x="276" y="209" width="3" height="1" fill="#000"/>
<rect x="280" y="209" width="1" height="1" fill="#000"/>
<rect x="288" y="209" width="1" height="1" fill="#000"/>
<rect x="262" y="210" width="1" height="1" fill="#000"/>
<rect x="267" y="210" width="1" height="1" fill="#000"/>
<rect x="276" y="210" width="3" height="1" fill="#000"/>
<rect x="280" y="210" width="1" height="1" fill="#000"/>
<rect x="288" y="210" width="1" height="1" fill="#000"/>
<rect x="262" y="211" width="1" height="1" fill="#000"/>
<rect x="267" y="211" width="1" height="1" fill="#000"/>
<rect x="276" y="211" width="3" height="1" fill="#000"/>
<rect x="280" y="211" width="1" height="1" fill="#000"/>
<rect x="288" y="211" width="1" height="1" fill="#000"/>
<rect x="262" y="212" width="1" height="1" fill="#000"/>
<rect x="267" y="212" width="1" height="1" fill="#000"/>
<rect x="276" y="212" width="3" height="1" fill="#000"/>
<rect x="280" y="212" width="1" height="1" fill="#000"/>
<rect x="288" y="212" width="1" height="1" fill="#000"/>
<rect x="262" y="213" width="1" height="1" fill="#000"/>
<rect x="267" y="213" width="1" height="1" fill="#000"/>
<rect x="276" y="213" width="3" height="1" fill="#000"/>
<rect x="280" y="213" width="1" height="1" fill="#000"/>
<rect x="288" y="213" width="1" height="1" fill="#000"/>
<rect x="262" y="214" width="1" height="1" fill="#000"/>
<rect x="267" y="214" width="1" height="1" fill="#000"/>
<rect x="276" y="214" width="3" height="1" fill="#000"/>
<rect x="280" y="214" width="9" height="1" fill="#000"/>
<rect x="262" y="215" width="1" height="1" fill="#000"/>
<rect x="267" y="215" width="12" height="1" fill="#000"/>
<rect x="280" y="215" width="1" height="1" fill="#000"/>
<rect x="288" y="215" width="1" height="1" fill="#000"/>
<rect x="277" y="216" width="4" height="1" fill="#000"/>
<rect x="288" y="216" width="1" height="1" fill="#000"/>
<rect x="280" y="217" width="1" height="1" fill="#000"/>
<rect x="288" y="217" width="1" height="1" fill="#000"/>
<rect x="262" y="218" width="27" height="1" fill="#000"/>
<rect x="84" y="200" width="178" height="1" fill="#000"/>
<rect x="84" y="218" width="178" height="1" fill="#000"/>
<rect x="88" y="202" width="174" height="14" fill="#000"/>
<rect x="88" y="208" width="175" height="8" fill="#000"/>
<rect x="92" y="203" width="1" height="5" fill="#fff"/>
<rect x="91" y="209" width="4" height="6" fill="#fff"/>
<rect x="98" y="203" width="1" height="5" fill="#fff"/>
<rect x="97" y="209" width="4" height="6" fill="#fff"/>
<rect x="103" y="203" width="1" height="5" fill="#fff"/>
<rect x="102" y="209" width="5" height="6" fill="#fff"/>
<rect x="109" y="203" width="1" height="5" fill="#fff"/>
<rect x="108" y="209" width="4" height="6" fill="#fff"/>
<rect x="115" y="203" width="2" height="5" fill="#fff"/>
<rect x="114" y="209" width="4" height="6" fill="#fff"/>
<rect x="121" y="203" width="2" height="5" fill="#fff"/>
<rect x="120" y="209" width="4" height="6" fill="#fff"/>
<rect x="128" y="203" width="1" height="13" fill="#fff"/>
<rect x="126" y="209" width="5" height="6" fill="#fff"/>
<rect x="134" y="203" width="1" height="13" fill="#fff"/>
<rect x="132" y="209" width="4" height="6" fill="#fff"/>
<rect x="139" y="203" width="1" height="5" fill="#fff"/>
<rect x="138" y="209" width="4" height="6" fill="#fff"/>
<rect x="145" y="203" width="2" height="5" fill="#fff"/>
<rect x="144" y="209" width="4" height="6" fill="#fff"/>
<rect x="151" y="203" width="2" height="5" fill="#fff"/>
<rect x="150" y="209" width="4" height="6" fill="#fff"/>
<rect x="157" y="203" width="2" height="5" fill="#fff"/>
<rect x="156" y="209" width="4" height="6" fill="#fff"/>
<rect x="163" y="203" width="2" height="5" fill="#fff"/>
<rect x="162" y="209" width="4" height="6" fill="#fff"/>
<rect x="169" y="203" width="1" height="5" fill="#fff"/>
<rect x="168" y="209" width="4" height="6" fill="#fff"/>
<rect x="174" y="203" width="1" height="5" fill="#fff"/>
<rect x="173" y="209" width="5" height="6" fill="#fff"/>
<rect x="180" y="203" width="1" height="5" fill="#fff"/>
<rect x="179" y="209" width="4" height="6" fill="#fff"/>
<rect x="187" y="203" width="1" height="13" fill="#fff"/>
<rect x="185" y="209" width="4" height="6" fill="#fff"/>
<rect x="192" y="203" width="1" height="5" fill="#fff"/>
<rect x="191" y="209" width="4" height="6" fill="#fff"/>
<rect x="198" y="203" width="2" height="5" fill="#fff"/>
<rect x="197" y="209" width="4" height="6" fill="#fff"/>
<rect x="203" y="203" width="2" height="5" fill="#fff"/>
<rect x="202" y="209" width="4" height="6" fill="#fff"/>
<rect x="210" y="203" width="2" height="5" fill="#fff"/>
<rect x="209" y="209" width="4" height="6" fill="#fff"/>
<rect x="216" y="203" width="1" height="5" fill="#fff"/>
<rect x="215" y="209" width="4" height="6" fill="#fff"/>
<rect x="222" y="203" width="1" height="5" fill="#fff"/>
<rect x="221" y="209" width="4" height="6" fill="#fff"/>
<rect x="227" y="203" width="1" height="5" fill="#fff"/>
<rect x="226" y="209" width="5" height="6" fill="#fff"/>
<rect x="233" y="203" width="1" height="5" fill="#fff"/>
<rect x="232" y="209" width="4" height="6" fill="#fff"/>
<rect x="239" y="203" width="2" height="5" fill="#fff"/>
<rect x="238" y="209" width="4" height="6" fill="#fff"/>
<rect x="245" y="203" width="2" height="5" fill="#fff"/>
<rect x="244" y="209" width="4" height="6" fill="#fff"/>
<rect x="251" y="203" width="1" height="5" fill="#fff"/>
<rect x="250" y="209" width="4" height="6" fill="#fff"/>
<rect x="257" y="203" width="1" height="5" fill="#fff"/>
<rect x="256" y="209" width="4" height="6" fill="#fff"/>
<rect x="261" y="209" width="1" height="6" fill="#fff"/>
<rect x="89" y="216" width="2" height="1" fill="#000"/>
<rect x="92" y="216" width="2" height="1" fill="#000"/>
<rect x="95" y="216" width="2" height="1" fill="#000"/>
<rect x="98" y="216" width="2" height="1" fill="#000"/>
<rect x="101" y="216" width="2" height="1" fill="#000"/>
<rect x="104" y="216" width="2" height="1" fill="#000"/>
<rect x="107" y="216" width="2" height="1" fill="#000"/>
<rect x="110" y="216" width="2" height="1" fill="#000"/>
<rect x="113" y="216" width="2" height="1" fill="#000"/>
<rect x="116" y="216" width="2" height="1" fill="#000"/>
<rect x="119" y="216" width="2" height="1" fill="#000"/>
<rect x="122" y="216" width="2" height="1" fill="#000"/>
<rect x="125" y="216" width="2" height="1" fill="#000"/>
<rect x="128" y="216" width="2" height="1" fill="#000"/>
<rect x="131" y="216" width="2" height="1" fill="#000"/>
<rect x="134" y="216" width="2" height="1" fill="#000"/>
<rect x="137" y="216" width="2" height="1" fill="#000"/>
<rect x="140" y="216" width="2" height="1" fill="#000"/>
<rect x="143" y="216" width="2" height="1" fill="#000"/>
<rect x="146" y="216" width="2" height="1" fill="#000"/>
<rect x="149" y="216" width="2" height="1" fill="#000"/>
<rect x="152" y="216" width="2" height="1" fill="#000"/>
<rect x="155" y="216" width="2" height="1" fill="#000"/>
<rect x="158" y="216" width="2" height="1" fill="#000"/>
<rect x="161" y="216" width="2" height="1" fill="#000"/>
<rect x="164" y="216" width="2" height="1" fill="#000"/>
<rect x="167" y="216" width="2" height="1" fill="#000"/>
<rect x="170" y="216" width="2" height="1" fill="#000"/>
<rect x="173" y="216" width="2" height="1" fill="#000"/>
<rect x="176" y="216" width="2" height="1" fill="#000"/>
<rect x="179" y="216" width="2" height="1" fill="#000"/>
<rect x="182" y="216" width="2" height="1" fill="#000"/>
<rect x="185" y="216" width="2" height="1" fill="#000"/>
<rect x="188" y="216" width="2" height="1" fill="#000"/>
<rect x="191" y="216" width="2" height="1" fill="#000"/>
<rect x="194" y="216" width="2" height="1" fill="#000"/>
<rect x="197" y="216" width="2" height="1" fill="#000"/>
<rect x="200" y="216" width="2" height="1" fill="#000"/>
<rect x="203" y="216" width="2" height="1" fill="#000"/>
<rect x="206" y="216" width="2" height="1" fill="#000"/>
<rect x="209" y="216" width="2" height="1" fill="#000"/>
<rect x="212" y="216" width="2" height="1" fill="#000"/>
<rect x="215" y="216" width="2" height="1" fill="#000"/>
<rect x="218" y="216" width="2" height="1" fill="#000"/>
<rect x="221" y="216" width="2" height="1" fill="#000"/>
<rect x="224" y="216" width="2" height="1" fill="#000"/>
<rect x="227" y="216" width="2" height="1" fill="#000"/>
<rect x="230" y="216" width="2" height="1" fill="#000"/>
<rect x="233" y="216" width="2" height="1" fill="#000"/>
<rect x="236" y="216" width="2" height="1" fill="#000"/>
<rect x="239" y="216" width="2" height="1" fill="#000"/>
<rect x="242" y="216" width="2" height="1" fill="#000"/>
<rect x="245" y="216" width="2" height="1" fill="#000"/>
<rect x="248" y="216" width="2" height="1" fill="#000"/>
<rect x="251" y="216" width="2" height="1" fill="#000"/>
<rect x="254" y="216" width="2" height="1" fill="#000"/>
<rect x="257" y="216" width="2" height="1" fill="#000"/>
<rect x="260" y="216" width="2" height="1" fill="#000"/>
<rect x="146" y="69" width="60" height="18" fill="#fff"/>
<polygon points="149,69 203,69 206,72 206,84 203,87 149,87 146,84 146,72" fill="#000"/>
<rect x="148" y="71" width="55" height="14" fill="#fff"/>
<g filter="url(#th)"><text transform="translate(150.23,82) scale(0.671,1)" x="0" y="0" font-size="14" fill="#000">B</text><text transform="translate(157.98,82) scale(0.754,1)" x="0" y="0" font-size="14" fill="#000">A</text><text transform="translate(167.12,82) scale(0.767,1)" x="0" y="0" font-size="14" fill="#000">N</text><text transform="translate(175.00,82) scale(0.871,1)" x="0" y="0" font-size="14" fill="#000">K</text><text transform="translate(190.56,82) scale(0.829,1)" x="0" y="0" font-size="14" fill="#000">3</text></g>
<rect x="146" y="110" width="60" height="18" fill="#fff"/>
<polygon points="149,110 203,110 206,113 206,125 203,128 149,128 146,125 146,113" fill="#000"/>
<rect x="148" y="112" width="55" height="14" fill="#fff"/>
<g filter="url(#th)"><text transform="translate(150.23,123) scale(0.671,1)" x="0" y="0" font-size="14" fill="#000">B</text><text transform="translate(157.98,123) scale(0.754,1)" x="0" y="0" font-size="14" fill="#000">A</text><text transform="translate(167.12,123) scale(0.767,1)" x="0" y="0" font-size="14" fill="#000">N</text><text transform="translate(175.00,123) scale(0.871,1)" x="0" y="0" font-size="14" fill="#000">K</text><text transform="translate(190.39,123) scale(0.862,1)" x="0" y="0" font-size="14" fill="#000">2</text></g>
<rect x="146" y="150" width="60" height="18" fill="#fff"/>
<polygon points="149,150 203,150 206,153 206,165 203,168 149,168 146,165 146,153" fill="#000"/>
<rect x="148" y="152" width="55" height="14" fill="#fff"/>
<rect x="195" y="154" width="1" height="9" fill="#000"/>
<rect x="193" y="156" width="2" height="1" fill="#000"/>
<g filter="url(#th)"><text transform="translate(150.23,163) scale(0.671,1)" x="0" y="0" font-size="14" fill="#000">B</text><text transform="translate(157.98,163) scale(0.754,1)" x="0" y="0" font-size="14" fill="#000">A</text><text transform="translate(167.12,163) scale(0.767,1)" x="0" y="0" font-size="14" fill="#000">N</text><text transform="translate(175.00,163) scale(0.871,1)" x="0" y="0" font-size="14" fill="#000">K</text></g>
<rect x="146" y="190" width="60" height="18" fill="#fff"/>
<polygon points="149,190 203,190 206,193 206,205 203,208 149,208 146,205 146,193" fill="#000"/>
<rect x="148" y="192" width="55" height="14" fill="#fff"/>
<g filter="url(#th)"><text transform="translate(150.23,203) scale(0.671,1)" x="0" y="0" font-size="14" fill="#000">B</text><text transform="translate(157.98,203) scale(0.754,1)" x="0" y="0" font-size="14" fill="#000">A</text><text transform="translate(167.12,203) scale(0.767,1)" x="0" y="0" font-size="14" fill="#000">N</text><text transform="translate(175.00,203) scale(0.871,1)" x="0" y="0" font-size="14" fill="#000">K</text><text transform="translate(190.55,203) scale(0.822,1)" x="0" y="0" font-size="14" fill="#000">0</text></g>
<polygon points="7,74 37,74 39,76 39,91 37,93 7,93 5,91 5,76" fill="#000"/>
<polygon points="8,77 35,77 36,78 36,90 35,91 8,91 7,90 7,78" fill="#fff"/>
<line x1="35.5" y1="91.5" x2="45" y2="101" stroke="#000" stroke-width="2.6" shape-rendering="auto"/>
<g filter="url(#th)"><text transform="translate(8.84,88) scale(0.731,1)" x="0" y="0" font-size="14" fill="#000">J</text><text transform="translate(16.24,88) scale(0.658,1)" x="0" y="0" font-size="14" fill="#000">P</text><text transform="translate(24.58,88) scale(0.783,1)" x="0" y="0" font-size="14" fill="#000">3</text></g>
<polygon points="15,107 36,107 38,109 38,124 36,126 15,126 13,124 13,109" fill="#000"/>
<polygon points="16,109 34,109 35,110 35,122 34,123 16,123 15,122 15,110" fill="#fff"/>
<line x1="34.5" y1="124" x2="45" y2="132.5" stroke="#000" stroke-width="2.6" shape-rendering="auto"/>
<g filter="url(#th)"><text transform="translate(16.52,120) scale(0.757,1)" x="0" y="0" font-size="14" fill="#000">S</text><text transform="translate(25.44,120) scale(0.800,1)" x="0" y="0" font-size="14" fill="#000">2</text></g>
<polygon points="6,145 36,145 38,147 38,162 36,164 6,164 4,162 4,147" fill="#000"/>
<polygon points="8,148 35,148 36,149 36,161 35,162 8,162 7,161 7,149" fill="#fff"/>
<line x1="35" y1="162.5" x2="45" y2="171.5" stroke="#000" stroke-width="2.6" shape-rendering="auto"/>
<rect x="20" y="149" width="1" height="9" fill="#000"/>
<rect x="18" y="151" width="2" height="1" fill="#000"/>
<rect x="24" y="149" width="6" height="1" fill="#000"/>
<rect x="29" y="150" width="1" height="1" fill="#000"/>
<rect x="28" y="151" width="1" height="1" fill="#000"/>
<rect x="28" y="152" width="1" height="1" fill="#000"/>
<rect x="27" y="153" width="1" height="1" fill="#000"/>
<rect x="27" y="154" width="1" height="1" fill="#000"/>
<rect x="26" y="155" width="1" height="1" fill="#000"/>
<rect x="26" y="156" width="1" height="1" fill="#000"/>
<rect x="26" y="157" width="1" height="1" fill="#000"/>
<g filter="url(#th)"><text transform="translate(9.85,158) scale(0.679,1)" x="0" y="0" font-size="14" fill="#000">J</text></g>
<polygon points="15,173 36,173 38,175 38,190 36,192 15,192 13,190 13,175" fill="#000"/>
<polygon points="16,176 35,176 36,177 36,189 35,190 16,190 15,189 15,177" fill="#fff"/>
<line x1="35.5" y1="190.5" x2="45.5" y2="199.5" stroke="#000" stroke-width="2.6" shape-rendering="auto"/>
<rect x="30" y="178" width="1" height="9" fill="#000"/>
<rect x="28" y="180" width="2" height="1" fill="#000"/>
<g filter="url(#th)"><text transform="translate(17.52,187) scale(0.757,1)" x="0" y="0" font-size="14" fill="#000">S</text></g>
<polygon points="7,219 37,219 39,221 39,236 37,238 7,238 5,236 5,221" fill="#000"/>
<polygon points="8,222 35,222 36,223 36,235 35,236 8,236 7,235 7,223" fill="#fff"/>
<line x1="35" y1="236.5" x2="45" y2="245.5" stroke="#000" stroke-width="2.6" shape-rendering="auto"/>
<rect x="20" y="224" width="1" height="9" fill="#000"/>
<rect x="18" y="226" width="2" height="1" fill="#000"/>
<g filter="url(#th)"><text transform="translate(9.85,233) scale(0.679,1)" x="0" y="0" font-size="14" fill="#000">J</text><text transform="translate(24.52,233) scale(0.792,1)" x="0" y="0" font-size="14" fill="#000">8</text></g>
<rect x="40" y="60" width="1" height="200" fill="#000"/>
<rect x="47" y="92" width="7" height="1" fill="#000"/>
<rect x="47" y="93" width="1" height="1" fill="#000"/>
<rect x="53" y="93" width="1" height="1" fill="#000"/>
<rect x="47" y="94" width="1" height="1" fill="#000"/>
<rect x="49" y="94" width="5" height="1" fill="#000"/>
<rect x="47" y="95" width="1" height="1" fill="#000"/>
<rect x="49" y="95" width="5" height="1" fill="#000"/>
<rect x="47" y="96" width="1" height="1" fill="#000"/>
<rect x="49" y="96" width="5" height="1" fill="#000"/>
<rect x="47" y="97" width="1" height="1" fill="#000"/>
<rect x="49" y="97" width="5" height="1" fill="#000"/>
<rect x="47" y="98" width="1" height="1" fill="#000"/>
<rect x="49" y="98" width="5" height="1" fill="#000"/>
<rect x="47" y="99" width="1" height="1" fill="#000"/>
<rect x="53" y="99" width="1" height="1" fill="#000"/>
<rect x="47" y="100" width="1" height="1" fill="#000"/>
<rect x="49" y="100" width="5" height="1" fill="#000"/>
<rect x="47" y="101" width="1" height="1" fill="#000"/>
<rect x="49" y="101" width="5" height="1" fill="#000"/>
<rect x="47" y="102" width="1" height="1" fill="#000"/>
<rect x="49" y="102" width="5" height="1" fill="#000"/>
<rect x="47" y="103" width="1" height="1" fill="#000"/>
<rect x="49" y="103" width="5" height="1" fill="#000"/>
<rect x="47" y="104" width="1" height="1" fill="#000"/>
<rect x="53" y="104" width="1" height="1" fill="#000"/>
<rect x="47" y="105" width="7" height="1" fill="#000"/>
<rect x="47" y="125" width="7" height="1" fill="#000"/>
<rect x="47" y="126" width="1" height="1" fill="#000"/>
<rect x="53" y="126" width="1" height="1" fill="#000"/>
<rect x="47" y="127" width="1" height="1" fill="#000"/>
<rect x="49" y="127" width="5" height="1" fill="#000"/>
<rect x="47" y="128" width="1" height="1" fill="#000"/>
<rect x="49" y="128" width="5" height="1" fill="#000"/>
<rect x="47" y="129" width="1" height="1" fill="#000"/>
<rect x="49" y="129" width="5" height="1" fill="#000"/>
<rect x="47" y="130" width="1" height="1" fill="#000"/>
<rect x="49" y="130" width="5" height="1" fill="#000"/>
<rect x="47" y="131" width="1" height="1" fill="#000"/>
<rect x="53" y="131" width="1" height="1" fill="#000"/>
<rect x="47" y="132" width="1" height="1" fill="#000"/>
<rect x="49" y="132" width="5" height="1" fill="#000"/>
<rect x="47" y="133" width="1" height="1" fill="#000"/>
<rect x="49" y="133" width="5" height="1" fill="#000"/>
<rect x="47" y="134" width="1" height="1" fill="#000"/>
<rect x="49" y="134" width="5" height="1" fill="#000"/>
<rect x="47" y="135" width="1" height="1" fill="#000"/>
<rect x="49" y="135" width="5" height="1" fill="#000"/>
<rect x="47" y="136" width="1" height="1" fill="#000"/>
<rect x="49" y="136" width="5" height="1" fill="#000"/>
<rect x="47" y="137" width="7" height="1" fill="#000"/>
<rect x="47" y="156" width="7" height="1" fill="#000"/>
<rect x="47" y="157" width="1" height="1" fill="#000"/>
<rect x="53" y="157" width="1" height="1" fill="#000"/>
<rect x="47" y="158" width="1" height="1" fill="#000"/>
<rect x="53" y="158" width="1" height="1" fill="#000"/>
<rect x="47" y="159" width="7" height="1" fill="#000"/>
<rect x="47" y="160" width="2" height="1" fill="#000"/>
<rect x="52" y="160" width="2" height="1" fill="#000"/>
<rect x="47" y="161" width="2" height="1" fill="#000"/>
<rect x="52" y="161" width="2" height="1" fill="#000"/>
<rect x="47" y="162" width="7" height="1" fill="#000"/>
<rect x="47" y="163" width="1" height="1" fill="#000"/>
<rect x="53" y="163" width="1" height="1" fill="#000"/>
<rect x="47" y="164" width="7" height="1" fill="#000"/>
<rect x="47" y="165" width="7" height="1" fill="#000"/>
<rect x="47" y="166" width="7" height="1" fill="#000"/>
<rect x="47" y="167" width="7" height="1" fill="#000"/>
<rect x="47" y="168" width="7" height="1" fill="#000"/>
<rect x="47" y="169" width="1" height="1" fill="#000"/>
<rect x="53" y="169" width="1" height="1" fill="#000"/>
<rect x="47" y="170" width="7" height="1" fill="#000"/>
<rect x="47" y="171" width="7" height="1" fill="#000"/>
<rect x="47" y="172" width="7" height="1" fill="#000"/>
<rect x="47" y="173" width="7" height="1" fill="#000"/>
<rect x="47" y="174" width="7" height="1" fill="#000"/>
<rect x="47" y="175" width="1" height="1" fill="#000"/>
<rect x="53" y="175" width="1" height="1" fill="#000"/>
<rect x="47" y="176" width="7" height="1" fill="#000"/>
<rect x="47" y="177" width="7" height="1" fill="#000"/>
<rect x="47" y="178" width="7" height="1" fill="#000"/>
<rect x="47" y="179" width="7" height="1" fill="#000"/>
<rect x="47" y="180" width="7" height="1" fill="#000"/>
<rect x="47" y="181" width="7" height="1" fill="#000"/>
<rect x="47" y="192" width="7" height="1" fill="#000"/>
<rect x="47" y="193" width="1" height="1" fill="#000"/>
<rect x="49" y="193" width="5" height="1" fill="#000"/>
<rect x="47" y="194" width="1" height="1" fill="#000"/>
<rect x="49" y="194" width="5" height="1" fill="#000"/>
<rect x="47" y="195" width="1" height="1" fill="#000"/>
<rect x="49" y="195" width="5" height="1" fill="#000"/>
<rect x="47" y="196" width="1" height="1" fill="#000"/>
<rect x="49" y="196" width="5" height="1" fill="#000"/>
<rect x="47" y="197" width="1" height="1" fill="#000"/>
<rect x="49" y="197" width="5" height="1" fill="#000"/>
<rect x="47" y="198" width="1" height="1" fill="#000"/>
<rect x="53" y="198" width="1" height="1" fill="#000"/>
<rect x="47" y="199" width="1" height="1" fill="#000"/>
<rect x="49" y="199" width="5" height="1" fill="#000"/>
<rect x="47" y="200" width="1" height="1" fill="#000"/>
<rect x="49" y="200" width="5" height="1" fill="#000"/>
<rect x="47" y="201" width="1" height="1" fill="#000"/>
<rect x="49" y="201" width="5" height="1" fill="#000"/>
<rect x="47" y="202" width="1" height="1" fill="#000"/>
<rect x="49" y="202" width="5" height="1" fill="#000"/>
<rect x="47" y="203" width="1" height="1" fill="#000"/>
<rect x="53" y="203" width="1" height="1" fill="#000"/>
<rect x="47" y="204" width="7" height="1" fill="#000"/>
<rect x="47" y="228" width="7" height="1" fill="#000"/>
<rect x="47" y="229" width="1" height="1" fill="#000"/>
<rect x="53" y="229" width="1" height="1" fill="#000"/>
<rect x="47" y="230" width="7" height="1" fill="#000"/>
<rect x="47" y="231" width="2" height="1" fill="#000"/>
<rect x="52" y="231" width="2" height="1" fill="#000"/>
<rect x="47" y="232" width="2" height="1" fill="#000"/>
<rect x="52" y="232" width="2" height="1" fill="#000"/>
<rect x="47" y="233" width="7" height="1" fill="#000"/>
<rect x="47" y="234" width="1" height="1" fill="#000"/>
<rect x="53" y="234" width="1" height="1" fill="#000"/>
<rect x="47" y="235" width="7" height="1" fill="#000"/>
<rect x="47" y="236" width="7" height="1" fill="#000"/>
<rect x="47" y="237" width="7" height="1" fill="#000"/>
<rect x="47" y="238" width="7" height="1" fill="#000"/>
<rect x="47" y="239" width="7" height="1" fill="#000"/>
<rect x="47" y="240" width="1" height="1" fill="#000"/>
<rect x="53" y="240" width="1" height="1" fill="#000"/>
<rect x="47" y="241" width="7" height="1" fill="#000"/>
<rect x="47" y="242" width="7" height="1" fill="#000"/>
<rect x="47" y="243" width="7" height="1" fill="#000"/>
<rect x="47" y="244" width="7" height="1" fill="#000"/>
<rect x="47" y="245" width="7" height="1" fill="#000"/>
<rect x="47" y="246" width="1" height="1" fill="#000"/>
<rect x="53" y="246" width="1" height="1" fill="#000"/>
<rect x="47" y="247" width="7" height="1" fill="#000"/>
<rect x="47" y="248" width="7" height="1" fill="#000"/>
<rect x="47" y="249" width="7" height="1" fill="#000"/>
<rect x="47" y="250" width="7" height="1" fill="#000"/>
<rect x="47" y="251" width="1" height="1" fill="#000"/>
<rect x="53" y="251" width="1" height="1" fill="#000"/>
<rect x="47" y="252" width="1" height="1" fill="#000"/>
<rect x="53" y="252" width="1" height="1" fill="#000"/>
<rect x="47" y="253" width="7" height="1" fill="#000"/>
<rect x="47" y="254" width="7" height="1" fill="#000"/>
<rect x="47" y="255" width="7" height="1" fill="#000"/>
<rect x="47" y="256" width="7" height="1" fill="#000"/>
<rect x="47" y="257" width="1" height="1" fill="#000"/>
<rect x="53" y="257" width="1" height="1" fill="#000"/>
<rect x="47" y="258" width="7" height="1" fill="#000"/>
<rect x="85" y="291" width="45" height="45" fill="#000"/>
<rect x="89" y="286" width="37" height="5" fill="#000"/>
<rect x="89" y="336" width="37" height="4" fill="#000"/>
<rect x="80" y="294" width="5" height="37" fill="#000"/>
<rect x="130" y="294" width="5" height="37" fill="#000"/>
<rect x="91" y="286" width="1" height="5" fill="#fff"/>
<rect x="91" y="336" width="1" height="4" fill="#fff"/>
<rect x="80" y="295" width="5" height="1" fill="#fff"/>
<rect x="130" y="295" width="5" height="1" fill="#fff"/>
<rect x="93" y="286" width="1" height="5" fill="#fff"/>
<rect x="93" y="336" width="1" height="4" fill="#fff"/>
<rect x="80" y="297" width="5" height="1" fill="#fff"/>
<rect x="130" y="297" width="5" height="1" fill="#fff"/>
<rect x="96" y="286" width="1" height="5" fill="#fff"/>
<rect x="96" y="336" width="1" height="4" fill="#fff"/>
<rect x="80" y="300" width="5" height="1" fill="#fff"/>
<rect x="130" y="300" width="5" height="1" fill="#fff"/>
<rect x="99" y="286" width="1" height="5" fill="#fff"/>
<rect x="99" y="336" width="1" height="4" fill="#fff"/>
<rect x="80" y="303" width="5" height="1" fill="#fff"/>
<rect x="130" y="303" width="5" height="1" fill="#fff"/>
<rect x="101" y="286" width="1" height="5" fill="#fff"/>
<rect x="101" y="336" width="1" height="4" fill="#fff"/>
<rect x="80" y="305" width="5" height="1" fill="#fff"/>
<rect x="130" y="305" width="5" height="1" fill="#fff"/>
<rect x="104" y="286" width="1" height="5" fill="#fff"/>
<rect x="104" y="336" width="1" height="4" fill="#fff"/>
<rect x="80" y="308" width="5" height="1" fill="#fff"/>
<rect x="130" y="308" width="5" height="1" fill="#fff"/>
<rect x="107" y="286" width="1" height="5" fill="#fff"/>
<rect x="107" y="336" width="1" height="4" fill="#fff"/>
<rect x="80" y="311" width="5" height="1" fill="#fff"/>
<rect x="130" y="311" width="5" height="1" fill="#fff"/>
<rect x="109" y="286" width="1" height="5" fill="#fff"/>
<rect x="109" y="336" width="1" height="4" fill="#fff"/>
<rect x="80" y="313" width="5" height="1" fill="#fff"/>
<rect x="130" y="313" width="5" height="1" fill="#fff"/>
<rect x="112" y="286" width="1" height="5" fill="#fff"/>
<rect x="112" y="336" width="1" height="4" fill="#fff"/>
<rect x="80" y="316" width="5" height="1" fill="#fff"/>
<rect x="130" y="316" width="5" height="1" fill="#fff"/>
<rect x="115" y="286" width="1" height="5" fill="#fff"/>
<rect x="115" y="336" width="1" height="4" fill="#fff"/>
<rect x="80" y="319" width="5" height="1" fill="#fff"/>
<rect x="130" y="319" width="5" height="1" fill="#fff"/>
<rect x="117" y="286" width="1" height="5" fill="#fff"/>
<rect x="117" y="336" width="1" height="4" fill="#fff"/>
<rect x="80" y="321" width="5" height="1" fill="#fff"/>
<rect x="130" y="321" width="5" height="1" fill="#fff"/>
<rect x="120" y="286" width="1" height="5" fill="#fff"/>
<rect x="120" y="336" width="1" height="4" fill="#fff"/>
<rect x="80" y="324" width="5" height="1" fill="#fff"/>
<rect x="130" y="324" width="5" height="1" fill="#fff"/>
<rect x="123" y="286" width="1" height="5" fill="#fff"/>
<rect x="123" y="336" width="1" height="4" fill="#fff"/>
<rect x="80" y="327" width="5" height="1" fill="#fff"/>
<rect x="130" y="327" width="5" height="1" fill="#fff"/>
<rect x="125" y="286" width="1" height="5" fill="#fff"/>
<rect x="125" y="336" width="1" height="4" fill="#fff"/>
<rect x="80" y="329" width="5" height="1" fill="#fff"/>
<rect x="130" y="329" width="5" height="1" fill="#fff"/>
<line x1="86.5" y1="292.5" x2="83.4" y2="289.4" stroke="#000" stroke-width="3.6" shape-rendering="auto"/>
<circle cx="83.4" cy="289.4" r="3.2" fill="#000" shape-rendering="auto"/>
<line x1="128.5" y1="292.5" x2="131.6" y2="289.4" stroke="#000" stroke-width="3.6" shape-rendering="auto"/>
<circle cx="131.6" cy="289.4" r="3.2" fill="#000" shape-rendering="auto"/>
<line x1="86.5" y1="334.5" x2="83.4" y2="337.6" stroke="#000" stroke-width="3.6" shape-rendering="auto"/>
<circle cx="83.4" cy="337.6" r="3.2" fill="#000" shape-rendering="auto"/>
<line x1="128.5" y1="334.5" x2="131.6" y2="337.6" stroke="#000" stroke-width="3.6" shape-rendering="auto"/>
<circle cx="131.6" cy="337.6" r="3.2" fill="#000" shape-rendering="auto"/>
<circle cx="124" cy="297" r="3.1" fill="#fff" shape-rendering="auto"/>
<rect x="93" y="306" width="28" height="14" fill="#fff"/>
<g filter="url(#th)"><text transform="translate(93.52,317) scale(0.677,1)" x="0" y="0" font-size="14" fill="#000">C</text><text transform="translate(104.23,317) scale(0.671,1)" x="0" y="0" font-size="14" fill="#000">P</text><text transform="translate(113.18,317) scale(0.755,1)" x="0" y="0" font-size="14" fill="#000">U</text></g>
<rect x="253" y="287" width="56" height="2" fill="#000"/>
<rect x="251" y="289" width="61" height="1" fill="#000"/>
<rect x="251" y="290" width="63" height="3" fill="#000"/>
<rect x="249" y="293" width="65" height="53" fill="#000"/>
<rect x="249" y="346" width="63" height="3" fill="#000"/>
<rect x="251" y="349" width="61" height="1" fill="#000"/>
<rect x="255" y="350" width="56" height="2" fill="#000"/>
<rect x="260" y="287" width="1" height="2" fill="#fff"/>
<rect x="263" y="287" width="1" height="2" fill="#fff"/>
<rect x="266" y="287" width="1" height="2" fill="#fff"/>
<rect x="269" y="287" width="1" height="2" fill="#fff"/>
<rect x="277" y="287" width="1" height="2" fill="#fff"/>
<rect x="280" y="287" width="1" height="2" fill="#fff"/>
<rect x="294" y="287" width="1" height="2" fill="#fff"/>
<rect x="297" y="287" width="1" height="2" fill="#fff"/>
<rect x="300" y="287" width="1" height="2" fill="#fff"/>
<rect x="265" y="350" width="1" height="2" fill="#fff"/>
<rect x="268" y="350" width="1" height="2" fill="#fff"/>
<rect x="271" y="350" width="1" height="2" fill="#fff"/>
<rect x="274" y="350" width="1" height="2" fill="#fff"/>
<rect x="282" y="350" width="1" height="2" fill="#fff"/>
<rect x="285" y="350" width="1" height="2" fill="#fff"/>
<rect x="288" y="350" width="1" height="2" fill="#fff"/>
<rect x="299" y="350" width="1" height="2" fill="#fff"/>
<rect x="302" y="350" width="1" height="2" fill="#fff"/>
<rect x="305" y="350" width="1" height="2" fill="#fff"/>
<rect x="249" y="303" width="2" height="1" fill="#fff"/>
<rect x="249" y="306" width="2" height="1" fill="#fff"/>
<rect x="249" y="309" width="2" height="1" fill="#fff"/>
<rect x="249" y="320" width="2" height="1" fill="#fff"/>
<rect x="249" y="323" width="2" height="1" fill="#fff"/>
<rect x="249" y="337" width="2" height="1" fill="#fff"/>
<rect x="249" y="340" width="2" height="1" fill="#fff"/>
<rect x="249" y="343" width="2" height="1" fill="#fff"/>
<rect x="249" y="346" width="2" height="1" fill="#fff"/>
<rect x="312" y="292" width="2" height="1" fill="#fff"/>
<rect x="312" y="295" width="2" height="1" fill="#fff"/>
<rect x="312" y="298" width="2" height="1" fill="#fff"/>
<rect x="312" y="309" width="2" height="1" fill="#fff"/>
<rect x="312" y="312" width="2" height="1" fill="#fff"/>
<rect x="312" y="326" width="2" height="1" fill="#fff"/>
<rect x="312" y="329" width="2" height="1" fill="#fff"/>
<rect x="312" y="332" width="2" height="1" fill="#fff"/>
<rect x="312" y="335" width="2" height="1" fill="#fff"/>
<circle cx="258.5" cy="296.5" r="2.6" fill="#fff" shape-rendering="auto"/>
<rect x="347" y="406" width="56" height="3" fill="#000"/>
<rect x="345" y="409" width="61" height="3" fill="#000"/>
<rect x="343" y="412" width="65" height="54" fill="#000"/>
<rect x="343" y="466" width="63" height="3" fill="#000"/>
<rect x="349" y="469" width="56" height="3" fill="#000"/>
<rect x="354" y="406" width="1" height="2" fill="#fff"/>
<rect x="357" y="406" width="1" height="2" fill="#fff"/>
<rect x="360" y="406" width="1" height="2" fill="#fff"/>
<rect x="371" y="406" width="1" height="2" fill="#fff"/>
<rect x="374" y="406" width="1" height="2" fill="#fff"/>
<rect x="377" y="406" width="1" height="2" fill="#fff"/>
<rect x="389" y="406" width="1" height="2" fill="#fff"/>
<rect x="392" y="406" width="1" height="2" fill="#fff"/>
<rect x="395" y="406" width="1" height="2" fill="#fff"/>
<rect x="376" y="470" width="1" height="2" fill="#fff"/>
<rect x="379" y="470" width="1" height="2" fill="#fff"/>
<rect x="382" y="470" width="1" height="2" fill="#fff"/>
<rect x="393" y="470" width="1" height="2" fill="#fff"/>
<rect x="396" y="470" width="1" height="2" fill="#fff"/>
<rect x="399" y="470" width="1" height="2" fill="#fff"/>
<rect x="359" y="470" width="1" height="2" fill="#fff"/>
<rect x="362" y="470" width="1" height="2" fill="#fff"/>
<rect x="343" y="420" width="2" height="1" fill="#fff"/>
<rect x="343" y="423" width="2" height="1" fill="#fff"/>
<rect x="343" y="426" width="2" height="1" fill="#fff"/>
<rect x="343" y="440" width="2" height="1" fill="#fff"/>
<rect x="343" y="443" width="2" height="1" fill="#fff"/>
<rect x="343" y="455" width="2" height="1" fill="#fff"/>
<rect x="343" y="458" width="2" height="1" fill="#fff"/>
<rect x="343" y="461" width="2" height="1" fill="#fff"/>
<rect x="406" y="415" width="2" height="1" fill="#fff"/>
<rect x="406" y="418" width="2" height="1" fill="#fff"/>
<rect x="406" y="430" width="2" height="1" fill="#fff"/>
<rect x="406" y="433" width="2" height="1" fill="#fff"/>
<rect x="406" y="436" width="2" height="1" fill="#fff"/>
<rect x="406" y="449" width="2" height="1" fill="#fff"/>
<rect x="406" y="452" width="2" height="1" fill="#fff"/>
<rect x="406" y="463" width="2" height="1" fill="#fff"/>
<circle cx="352.3" cy="416" r="2.4" fill="#fff" shape-rendering="auto"/>
<rect x="114" y="404" width="60" height="60" fill="#000"/>
<rect x="116" y="406" width="56" height="56" fill="#fff"/>
<polygon points="114,404 118,404 114,408" fill="#fff"/>
<polygon points="114,408 118,404 119,405 115,409" fill="#000"/>
<rect x="116" y="406" width="6" height="6" fill="#000"/>
<rect x="166" y="406" width="6" height="6" fill="#000"/>
<rect x="116" y="456" width="6" height="6" fill="#000"/>
<rect x="166" y="456" width="6" height="6" fill="#000"/>
<polygon points="118.5,406.5 121,409 118.5,411.5 116,409" fill="#fff"/>
<rect x="128" y="406" width="1" height="4" fill="#000"/>
<rect x="146" y="406" width="1" height="4" fill="#000"/>
<rect x="157" y="406" width="1" height="4" fill="#000"/>
<rect x="128" y="458" width="1" height="4" fill="#000"/>
<rect x="148" y="458" width="1" height="4" fill="#000"/>
<rect x="157" y="458" width="1" height="4" fill="#000"/>
<rect x="116" y="422" width="4" height="1" fill="#000"/>
<rect x="116" y="442" width="4" height="1" fill="#000"/>
<rect x="116" y="451" width="4" height="1" fill="#000"/>
<rect x="168" y="428" width="4" height="1" fill="#000"/>
<rect x="168" y="438" width="4" height="1" fill="#000"/>
<polygon points="130,424 158,424 160,426 160,441 158,443 130,443 128,441 128,426" fill="#000"/>
<polygon points="131,427 157,427 158,428 158,440 157,441 131,441 130,440 130,428" fill="#fff"/>
<g filter="url(#th)"><text transform="translate(131.12,438) scale(0.767,1)" x="0" y="0" font-size="14" fill="#000">N</text><text transform="translate(140.23,438) scale(0.671,1)" x="0" y="0" font-size="14" fill="#000">P</text><text transform="translate(149.18,438) scale(0.755,1)" x="0" y="0" font-size="14" fill="#000">U</text></g>
<rect x="617" y="369" width="127" height="43" fill="#000"/>
<rect x="742" y="385" width="2" height="11" fill="#fff"/>
<rect x="743" y="396" width="1" height="1" fill="#fff"/>
<rect x="667" y="384" width="28" height="14" fill="#fff"/>
<g filter="url(#th)"><text transform="translate(668.14,394) scale(0.747,1)" x="0" y="0" font-size="14" fill="#000">K</text><text transform="translate(677.23,394) scale(0.671,1)" x="0" y="0" font-size="14" fill="#000">B</text><text transform="translate(685.17,394) scale(0.724,1)" x="0" y="0" font-size="14" fill="#000">D</text></g>
<g filter="url(#th)"><text transform="translate(654.26,67) scale(0.690,1)" x="0" y="0" font-size="13" fill="#000">M</text><text transform="translate(664.27,67) scale(0.689,1)" x="0" y="0" font-size="13" fill="#000">H</text><text transform="translate(671.59,67) scale(0.805,1)" x="0" y="0" font-size="13" fill="#000">0</text><text transform="translate(678.77,67) scale(0.763,1)" x="0" y="0" font-size="13" fill="#000">4</text><text transform="translate(685.45,67) scale(0.834,1)" x="0" y="0" font-size="13" fill="#000">6</text><text transform="translate(691.49,67) scale(0.833,1)" x="0" y="0" font-size="13" fill="#000">9</text></g>
<rect x="753" y="365" width="7" height="1" fill="#000"/>
<rect x="753" y="366" width="5" height="1" fill="#000"/>
<rect x="759" y="366" width="1" height="1" fill="#000"/>
<rect x="753" y="367" width="5" height="1" fill="#000"/>
<rect x="759" y="367" width="1" height="1" fill="#000"/>
<rect x="753" y="368" width="5" height="1" fill="#000"/>
<rect x="759" y="368" width="1" height="1" fill="#000"/>
<rect x="753" y="369" width="5" height="1" fill="#000"/>
<rect x="759" y="369" width="1" height="1" fill="#000"/>
<rect x="753" y="370" width="5" height="1" fill="#000"/>
<rect x="759" y="370" width="1" height="1" fill="#000"/>
<rect x="753" y="371" width="1" height="1" fill="#000"/>
<rect x="759" y="371" width="1" height="1" fill="#000"/>
<rect x="753" y="372" width="5" height="1" fill="#000"/>
<rect x="759" y="372" width="1" height="1" fill="#000"/>
<rect x="753" y="373" width="5" height="1" fill="#000"/>
<rect x="759" y="373" width="1" height="1" fill="#000"/>
<rect x="753" y="374" width="5" height="1" fill="#000"/>
<rect x="759" y="374" width="1" height="1" fill="#000"/>
<rect x="753" y="375" width="5" height="1" fill="#000"/>
<rect x="759" y="375" width="1" height="1" fill="#000"/>
<rect x="753" y="376" width="5" height="1" fill="#000"/>
<rect x="759" y="376" width="1" height="1" fill="#000"/>
<rect x="753" y="377" width="7" height="1" fill="#000"/>
<polygon points="777,362 815,362 817,364 817,379 815,381 777,381 775,379 775,364" fill="#000"/>
<polygon points="778,364 813,364 814,365 814,378 813,379 778,379 777,378 777,365" fill="#fff"/>
<rect x="761" y="370" width="4" height="3" fill="#000"/>
<rect x="765" y="369" width="4" height="5" fill="#000"/>
<rect x="769" y="369" width="4" height="2" fill="#000"/>
<rect x="769" y="372" width="4" height="2" fill="#000"/>
<rect x="773" y="368" width="3" height="2" fill="#000"/>
<rect x="773" y="373" width="3" height="2" fill="#000"/>
<rect x="775" y="370" width="2" height="3" fill="#fff"/>
<rect x="799" y="367" width="1" height="9" fill="#000"/>
<rect x="797" y="369" width="2" height="1" fill="#000"/>
<g filter="url(#th)"><text transform="translate(779.85,376) scale(0.697,1)" x="0" y="0" font-size="14" fill="#000">J</text><text transform="translate(788.23,376) scale(0.671,1)" x="0" y="0" font-size="14" fill="#000">P</text><text transform="translate(803.98,376) scale(0.754,1)" x="0" y="0" font-size="14" fill="#000">A</text></g>
<polygon points="762,392 783,392 785,394 785,409 783,411 762,411 760,409 760,394" fill="#000"/>
<polygon points="763,394 782,394 783,395 783,407 782,408 763,408 762,407 762,395" fill="#fff"/>
<line x1="782" y1="408" x2="792" y2="417" stroke="#000" stroke-width="2.6" shape-rendering="auto"/>
<g filter="url(#th)"><text transform="translate(764.85,405) scale(0.697,1)" x="0" y="0" font-size="14" fill="#000">J</text><text transform="translate(771.54,405) scale(0.761,1)" x="0" y="0" font-size="14" fill="#000">8</text></g>
<rect x="793" y="403" width="7" height="1" fill="#000"/>
<rect x="793" y="404" width="1" height="1" fill="#000"/>
<rect x="799" y="404" width="1" height="1" fill="#000"/>
<rect x="793" y="405" width="5" height="1" fill="#000"/>
<rect x="799" y="405" width="1" height="1" fill="#000"/>
<rect x="793" y="406" width="2" height="1" fill="#000"/>
<rect x="797" y="406" width="1" height="1" fill="#000"/>
<rect x="799" y="406" width="1" height="1" fill="#000"/>
<rect x="793" y="407" width="2" height="1" fill="#000"/>
<rect x="797" y="407" width="1" height="1" fill="#000"/>
<rect x="799" y="407" width="1" height="1" fill="#000"/>
<rect x="793" y="408" width="2" height="1" fill="#000"/>
<rect x="797" y="408" width="1" height="1" fill="#000"/>
<rect x="799" y="408" width="1" height="1" fill="#000"/>
<rect x="793" y="409" width="5" height="1" fill="#000"/>
<rect x="799" y="409" width="1" height="1" fill="#000"/>
<rect x="793" y="410" width="1" height="1" fill="#000"/>
<rect x="799" y="410" width="1" height="1" fill="#000"/>
<rect x="793" y="411" width="5" height="1" fill="#000"/>
<rect x="799" y="411" width="1" height="1" fill="#000"/>
<rect x="793" y="412" width="5" height="1" fill="#000"/>
<rect x="799" y="412" width="1" height="1" fill="#000"/>
<rect x="793" y="413" width="5" height="1" fill="#000"/>
<rect x="799" y="413" width="1" height="1" fill="#000"/>
<rect x="793" y="414" width="5" height="1" fill="#000"/>
<rect x="799" y="414" width="1" height="1" fill="#000"/>
<rect x="793" y="415" width="5" height="1" fill="#000"/>
<rect x="799" y="415" width="1" height="1" fill="#000"/>
<rect x="793" y="416" width="1" height="1" fill="#000"/>
<rect x="799" y="416" width="1" height="1" fill="#000"/>
<rect x="793" y="417" width="5" height="1" fill="#000"/>
<rect x="799" y="417" width="1" height="1" fill="#000"/>
<rect x="793" y="418" width="5" height="1" fill="#000"/>
<rect x="799" y="418" width="1" height="1" fill="#000"/>
<rect x="793" y="419" width="5" height="1" fill="#000"/>
<rect x="799" y="419" width="1" height="1" fill="#000"/>
<rect x="793" y="420" width="5" height="1" fill="#000"/>
<rect x="799" y="420" width="1" height="1" fill="#000"/>
<rect x="793" y="421" width="5" height="1" fill="#000"/>
<rect x="799" y="421" width="1" height="1" fill="#000"/>
<rect x="793" y="422" width="1" height="1" fill="#000"/>
<rect x="799" y="422" width="1" height="1" fill="#000"/>
<rect x="793" y="423" width="5" height="1" fill="#000"/>
<rect x="799" y="423" width="1" height="1" fill="#000"/>
<rect x="793" y="424" width="5" height="1" fill="#000"/>
<rect x="799" y="424" width="1" height="1" fill="#000"/>
<rect x="793" y="425" width="5" height="1" fill="#000"/>
<rect x="799" y="425" width="1" height="1" fill="#000"/>
<rect x="793" y="426" width="5" height="1" fill="#000"/>
<rect x="799" y="426" width="1" height="1" fill="#000"/>
<rect x="793" y="427" width="1" height="1" fill="#000"/>
<rect x="799" y="427" width="1" height="1" fill="#000"/>
<rect x="793" y="428" width="7" height="1" fill="#000"/>
<polygon points="540,460 570,460 572,462 572,477 570,479 540,479 538,477 538,462" fill="#000"/>
<polygon points="541,462 568,462 569,463 569,476 568,477 541,477 540,476 540,463" fill="#fff"/>
<line x1="568.5" y1="477" x2="578" y2="485.5" stroke="#000" stroke-width="2.6" shape-rendering="auto"/>
<g filter="url(#th)"><text transform="translate(541.85,474) scale(0.697,1)" x="0" y="0" font-size="14" fill="#000">J</text><text transform="translate(549.23,474) scale(0.671,1)" x="0" y="0" font-size="14" fill="#000">P</text><text transform="translate(557.39,474) scale(0.862,1)" x="0" y="0" font-size="14" fill="#000">2</text></g>
<rect x="580" y="475" width="6" height="1" fill="#000"/>
<rect x="580" y="476" width="6" height="1" fill="#000"/>
<rect x="580" y="477" width="6" height="1" fill="#000"/>
<rect x="580" y="478" width="6" height="1" fill="#000"/>
<rect x="580" y="479" width="6" height="1" fill="#000"/>
<rect x="580" y="480" width="6" height="1" fill="#000"/>
<rect x="580" y="481" width="1" height="1" fill="#000"/>
<rect x="585" y="481" width="1" height="1" fill="#000"/>
<rect x="580" y="482" width="6" height="1" fill="#000"/>
<rect x="580" y="483" width="6" height="1" fill="#000"/>
<rect x="580" y="484" width="6" height="1" fill="#000"/>
<rect x="580" y="485" width="6" height="1" fill="#000"/>
<rect x="580" y="486" width="6" height="1" fill="#000"/>
<rect x="580" y="487" width="1" height="1" fill="#000"/>
<rect x="585" y="487" width="1" height="1" fill="#000"/>
<rect x="580" y="488" width="6" height="1" fill="#000"/>
<rect x="580" y="489" width="2" height="1" fill="#000"/>
<rect x="584" y="489" width="2" height="1" fill="#000"/>
<rect x="580" y="490" width="2" height="1" fill="#000"/>
<rect x="584" y="490" width="2" height="1" fill="#000"/>
<rect x="580" y="491" width="2" height="1" fill="#000"/>
<rect x="584" y="491" width="2" height="1" fill="#000"/>
<rect x="580" y="492" width="6" height="1" fill="#000"/>
<rect x="580" y="493" width="6" height="1" fill="#000"/>
<rect x="790" y="443" width="24" height="37" fill="#000"/>
<rect x="814" y="439" width="3" height="46" fill="#000"/>
<rect x="817" y="437" width="2" height="51" fill="#000"/>
<rect x="787" y="450" width="3" height="24" fill="#000"/>
<rect x="788" y="451" width="2" height="8" fill="#fff"/>
<rect x="788" y="462" width="2" height="11" fill="#fff"/>
<rect x="789" y="453" width="1" height="1" fill="#000"/>
<rect x="789" y="455" width="1" height="1" fill="#000"/>
<rect x="789" y="457" width="1" height="1" fill="#000"/>
<rect x="789" y="464" width="1" height="1" fill="#000"/>
<rect x="789" y="466" width="1" height="1" fill="#000"/>
<rect x="789" y="468" width="1" height="1" fill="#000"/>
<rect x="789" y="470" width="1" height="1" fill="#000"/>
<rect x="783" y="452" width="5" height="9" fill="#000"/>
<rect x="784" y="453" width="3" height="7" fill="#fff"/>
<rect x="783" y="463" width="5" height="9" fill="#000"/>
<rect x="784" y="464" width="3" height="7" fill="#fff"/>
<rect x="633" y="487" width="113" height="25" fill="#000"/>
<rect x="634" y="488" width="111" height="23" fill="#fff"/>
<rect x="635" y="491" width="7" height="3" fill="#000"/>
<rect x="636" y="492" width="5" height="1" fill="#fff"/>
<rect x="636" y="494" width="5" height="1" fill="#000"/>
<rect x="635" y="498" width="7" height="2" fill="#000"/>
<rect x="644" y="491" width="7" height="3" fill="#000"/>
<rect x="645" y="492" width="5" height="1" fill="#fff"/>
<rect x="645" y="494" width="5" height="1" fill="#000"/>
<rect x="644" y="498" width="7" height="2" fill="#000"/>
<rect x="654" y="491" width="7" height="3" fill="#000"/>
<rect x="655" y="492" width="5" height="1" fill="#fff"/>
<rect x="655" y="494" width="5" height="1" fill="#000"/>
<rect x="654" y="498" width="7" height="2" fill="#000"/>
<rect x="663" y="491" width="7" height="3" fill="#000"/>
<rect x="664" y="492" width="5" height="1" fill="#fff"/>
<rect x="664" y="494" width="5" height="1" fill="#000"/>
<rect x="663" y="498" width="7" height="2" fill="#000"/>
<rect x="672" y="491" width="7" height="3" fill="#000"/>
<rect x="673" y="492" width="5" height="1" fill="#fff"/>
<rect x="673" y="494" width="5" height="1" fill="#000"/>
<rect x="672" y="498" width="7" height="2" fill="#000"/>
<rect x="681" y="491" width="7" height="3" fill="#000"/>
<rect x="682" y="492" width="5" height="1" fill="#fff"/>
<rect x="682" y="494" width="5" height="1" fill="#000"/>
<rect x="681" y="498" width="7" height="2" fill="#000"/>
<rect x="691" y="491" width="7" height="3" fill="#000"/>
<rect x="692" y="492" width="5" height="1" fill="#fff"/>
<rect x="692" y="494" width="5" height="1" fill="#000"/>
<rect x="691" y="498" width="7" height="2" fill="#000"/>
<rect x="700" y="491" width="7" height="3" fill="#000"/>
<rect x="701" y="492" width="5" height="1" fill="#fff"/>
<rect x="701" y="494" width="5" height="1" fill="#000"/>
<rect x="700" y="498" width="7" height="2" fill="#000"/>
<rect x="709" y="491" width="7" height="3" fill="#000"/>
<rect x="710" y="492" width="5" height="1" fill="#fff"/>
<rect x="710" y="494" width="5" height="1" fill="#000"/>
<rect x="709" y="498" width="7" height="2" fill="#000"/>
<rect x="718" y="491" width="7" height="3" fill="#000"/>
<rect x="719" y="492" width="5" height="1" fill="#fff"/>
<rect x="719" y="494" width="5" height="1" fill="#000"/>
<rect x="718" y="498" width="7" height="2" fill="#000"/>
<rect x="728" y="491" width="7" height="3" fill="#000"/>
<rect x="729" y="492" width="5" height="1" fill="#fff"/>
<rect x="729" y="494" width="5" height="1" fill="#000"/>
<rect x="728" y="498" width="7" height="2" fill="#000"/>
<rect x="737" y="491" width="7" height="3" fill="#000"/>
<rect x="738" y="492" width="5" height="1" fill="#fff"/>
<rect x="738" y="494" width="5" height="1" fill="#000"/>
<rect x="737" y="498" width="7" height="2" fill="#000"/>
<rect x="634" y="495" width="110" height="1" fill="#000"/>
<rect x="639" y="501" width="7" height="8" fill="#000"/>
<rect x="640" y="502" width="5" height="6" fill="#fff"/>
<rect x="648" y="501" width="7" height="8" fill="#000"/>
<rect x="649" y="502" width="5" height="6" fill="#fff"/>
<rect x="658" y="501" width="7" height="8" fill="#000"/>
<rect x="659" y="502" width="5" height="6" fill="#fff"/>
<rect x="667" y="501" width="7" height="8" fill="#000"/>
<rect x="668" y="502" width="5" height="6" fill="#fff"/>
<rect x="677" y="501" width="7" height="8" fill="#000"/>
<rect x="678" y="502" width="5" height="6" fill="#fff"/>
<rect x="686" y="501" width="7" height="8" fill="#000"/>
<rect x="687" y="502" width="5" height="6" fill="#fff"/>
<rect x="696" y="501" width="7" height="8" fill="#000"/>
<rect x="697" y="502" width="5" height="6" fill="#fff"/>
<rect x="705" y="501" width="7" height="8" fill="#000"/>
<rect x="706" y="502" width="5" height="6" fill="#fff"/>
<rect x="715" y="501" width="7" height="8" fill="#000"/>
<rect x="716" y="502" width="5" height="6" fill="#fff"/>
<rect x="724" y="501" width="7" height="8" fill="#000"/>
<rect x="725" y="502" width="5" height="6" fill="#fff"/>
<rect x="734" y="501" width="7" height="8" fill="#000"/>
<rect x="735" y="502" width="5" height="6" fill="#fff"/>
<rect x="633" y="501" width="4" height="8" fill="#000"/>
<rect x="633" y="503" width="3" height="3" fill="#fff"/>
<rect x="634" y="502" width="2" height="1" fill="#fff"/>
<rect x="634" y="506" width="2" height="1" fill="#fff"/>
<rect x="742" y="501" width="4" height="8" fill="#000"/>
<rect x="743" y="503" width="3" height="3" fill="#fff"/>
<rect x="743" y="502" width="2" height="1" fill="#fff"/>
<rect x="743" y="506" width="2" height="1" fill="#fff"/>
</svg>
</body></html>
